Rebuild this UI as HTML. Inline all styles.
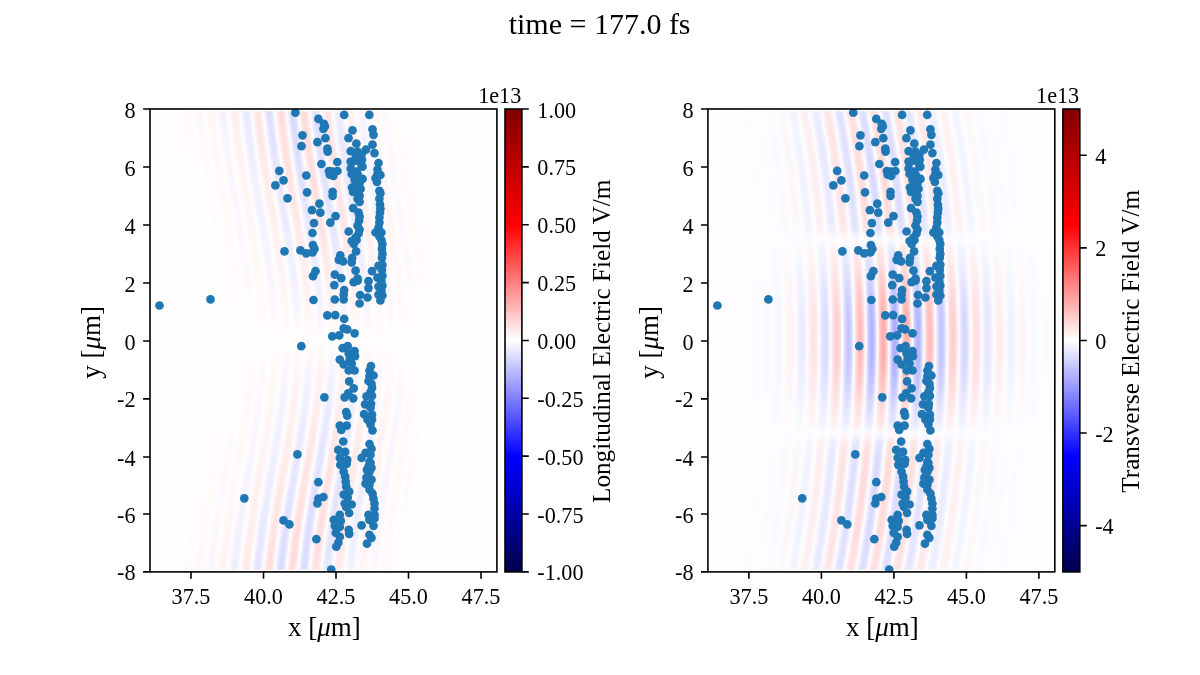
<!DOCTYPE html><html><head><meta charset="utf-8"><title>time = 177.0 fs</title><style>html,body{margin:0;padding:0;background:#fff;overflow:hidden;}svg{display:block;}text{font-family:'Liberation Serif','Times New Roman',serif;fill:#000;}</style></head><body>
<svg width="1200" height="675" viewBox="0 0 1200 675">
<defs><linearGradient id="gEz" gradientUnits="userSpaceOnUse" x1="0" y1="0" x2="23.300" y2="0" spreadMethod="repeat"><stop offset="0.0000" stop-color="rgb(255,214,214)"/><stop offset="0.0625" stop-color="rgb(255,217,217)"/><stop offset="0.1250" stop-color="rgb(255,226,226)"/><stop offset="0.1875" stop-color="rgb(255,239,239)"/><stop offset="0.2500" stop-color="rgb(255,255,255)"/><stop offset="0.3125" stop-color="rgb(239,239,255)"/><stop offset="0.3750" stop-color="rgb(226,226,255)"/><stop offset="0.4375" stop-color="rgb(217,217,255)"/><stop offset="0.5000" stop-color="rgb(214,214,255)"/><stop offset="0.5625" stop-color="rgb(217,217,255)"/><stop offset="0.6250" stop-color="rgb(226,226,255)"/><stop offset="0.6875" stop-color="rgb(239,239,255)"/><stop offset="0.7500" stop-color="rgb(255,255,255)"/><stop offset="0.8125" stop-color="rgb(255,239,239)"/><stop offset="0.8750" stop-color="rgb(255,226,226)"/><stop offset="0.9375" stop-color="rgb(255,217,217)"/><stop offset="1.0000" stop-color="rgb(255,214,214)"/></linearGradient><linearGradient id="gEy" gradientUnits="userSpaceOnUse" x1="0" y1="0" x2="23.300" y2="0" spreadMethod="repeat"><stop offset="0.0000" stop-color="rgb(255,171,171)"/><stop offset="0.0625" stop-color="rgb(255,177,177)"/><stop offset="0.1250" stop-color="rgb(255,195,195)"/><stop offset="0.1875" stop-color="rgb(255,223,223)"/><stop offset="0.2500" stop-color="rgb(255,255,255)"/><stop offset="0.3125" stop-color="rgb(223,223,255)"/><stop offset="0.3750" stop-color="rgb(195,195,255)"/><stop offset="0.4375" stop-color="rgb(177,177,255)"/><stop offset="0.5000" stop-color="rgb(171,171,255)"/><stop offset="0.5625" stop-color="rgb(177,177,255)"/><stop offset="0.6250" stop-color="rgb(195,195,255)"/><stop offset="0.6875" stop-color="rgb(223,223,255)"/><stop offset="0.7500" stop-color="rgb(255,255,255)"/><stop offset="0.8125" stop-color="rgb(255,223,223)"/><stop offset="0.8750" stop-color="rgb(255,195,195)"/><stop offset="0.9375" stop-color="rgb(255,177,177)"/><stop offset="1.0000" stop-color="rgb(255,171,171)"/></linearGradient><linearGradient id="eEz" gradientUnits="userSpaceOnUse" x1="75.0" y1="0" x2="595.0" y2="0"><stop offset="0.0000" stop-color="rgb(0,0,0)"/><stop offset="0.0385" stop-color="rgb(0,0,0)"/><stop offset="0.0769" stop-color="rgb(0,0,0)"/><stop offset="0.1154" stop-color="rgb(0,0,0)"/><stop offset="0.1538" stop-color="rgb(0,0,0)"/><stop offset="0.1923" stop-color="rgb(0,0,0)"/><stop offset="0.2308" stop-color="rgb(2,2,2)"/><stop offset="0.2692" stop-color="rgb(7,7,7)"/><stop offset="0.3077" stop-color="rgb(22,22,22)"/><stop offset="0.3462" stop-color="rgb(53,53,53)"/><stop offset="0.3846" stop-color="rgb(105,105,105)"/><stop offset="0.4231" stop-color="rgb(172,172,172)"/><stop offset="0.4615" stop-color="rgb(231,231,231)"/><stop offset="0.5000" stop-color="rgb(255,255,255)"/><stop offset="0.5385" stop-color="rgb(225,225,225)"/><stop offset="0.5769" stop-color="rgb(155,155,155)"/><stop offset="0.6154" stop-color="rgb(83,83,83)"/><stop offset="0.6538" stop-color="rgb(35,35,35)"/><stop offset="0.6923" stop-color="rgb(11,11,11)"/><stop offset="0.7308" stop-color="rgb(3,3,3)"/><stop offset="0.7692" stop-color="rgb(1,1,1)"/><stop offset="0.8077" stop-color="rgb(0,0,0)"/><stop offset="0.8462" stop-color="rgb(0,0,0)"/><stop offset="0.8846" stop-color="rgb(0,0,0)"/><stop offset="0.9231" stop-color="rgb(0,0,0)"/><stop offset="0.9615" stop-color="rgb(0,0,0)"/><stop offset="1.0000" stop-color="rgb(0,0,0)"/></linearGradient><linearGradient id="eEyI" gradientUnits="userSpaceOnUse" x1="631.0" y1="0" x2="1151.0" y2="0"><stop offset="0.0000" stop-color="rgb(0,0,0)"/><stop offset="0.0385" stop-color="rgb(0,0,0)"/><stop offset="0.0769" stop-color="rgb(0,0,0)"/><stop offset="0.1154" stop-color="rgb(0,0,0)"/><stop offset="0.1538" stop-color="rgb(0,0,0)"/><stop offset="0.1923" stop-color="rgb(2,2,2)"/><stop offset="0.2308" stop-color="rgb(5,5,5)"/><stop offset="0.2692" stop-color="rgb(14,14,14)"/><stop offset="0.3077" stop-color="rgb(35,35,35)"/><stop offset="0.3462" stop-color="rgb(71,71,71)"/><stop offset="0.3846" stop-color="rgb(124,124,124)"/><stop offset="0.4231" stop-color="rgb(185,185,185)"/><stop offset="0.4615" stop-color="rgb(235,235,235)"/><stop offset="0.5000" stop-color="rgb(255,255,255)"/><stop offset="0.5385" stop-color="rgb(241,241,241)"/><stop offset="0.5769" stop-color="rgb(204,204,204)"/><stop offset="0.6154" stop-color="rgb(155,155,155)"/><stop offset="0.6538" stop-color="rgb(105,105,105)"/><stop offset="0.6923" stop-color="rgb(64,64,64)"/><stop offset="0.7308" stop-color="rgb(35,35,35)"/><stop offset="0.7692" stop-color="rgb(17,17,17)"/><stop offset="0.8077" stop-color="rgb(7,7,7)"/><stop offset="0.8462" stop-color="rgb(3,3,3)"/><stop offset="0.8846" stop-color="rgb(1,1,1)"/><stop offset="0.9231" stop-color="rgb(0,0,0)"/><stop offset="0.9615" stop-color="rgb(0,0,0)"/><stop offset="1.0000" stop-color="rgb(0,0,0)"/></linearGradient><linearGradient id="eEyO" gradientUnits="userSpaceOnUse" x1="626.0" y1="0" x2="1146.0" y2="0"><stop offset="0.0000" stop-color="rgb(0,0,0)"/><stop offset="0.0385" stop-color="rgb(0,0,0)"/><stop offset="0.0769" stop-color="rgb(0,0,0)"/><stop offset="0.1154" stop-color="rgb(0,0,0)"/><stop offset="0.1538" stop-color="rgb(0,0,0)"/><stop offset="0.1923" stop-color="rgb(1,1,1)"/><stop offset="0.2308" stop-color="rgb(2,2,2)"/><stop offset="0.2692" stop-color="rgb(8,8,8)"/><stop offset="0.3077" stop-color="rgb(24,24,24)"/><stop offset="0.3462" stop-color="rgb(56,56,56)"/><stop offset="0.3846" stop-color="rgb(109,109,109)"/><stop offset="0.4231" stop-color="rgb(175,175,175)"/><stop offset="0.4615" stop-color="rgb(232,232,232)"/><stop offset="0.5000" stop-color="rgb(255,255,255)"/><stop offset="0.5385" stop-color="rgb(238,238,238)"/><stop offset="0.5769" stop-color="rgb(194,194,194)"/><stop offset="0.6154" stop-color="rgb(138,138,138)"/><stop offset="0.6538" stop-color="rgb(85,85,85)"/><stop offset="0.6923" stop-color="rgb(46,46,46)"/><stop offset="0.7308" stop-color="rgb(22,22,22)"/><stop offset="0.7692" stop-color="rgb(9,9,9)"/><stop offset="0.8077" stop-color="rgb(3,3,3)"/><stop offset="0.8462" stop-color="rgb(1,1,1)"/><stop offset="0.8846" stop-color="rgb(0,0,0)"/><stop offset="0.9231" stop-color="rgb(0,0,0)"/><stop offset="0.9615" stop-color="rgb(0,0,0)"/><stop offset="1.0000" stop-color="rgb(0,0,0)"/></linearGradient><mask id="mEz" maskUnits="userSpaceOnUse" x="0" y="0" width="1200" height="675"><rect x="193.87" y="110" width="346.9" height="2" fill="url(#eEz)" opacity="0.974" transform="translate(-43.87)"/><rect x="193.11" y="112" width="346.9" height="2" fill="url(#eEz)" opacity="0.970" transform="translate(-43.11)"/><rect x="192.36" y="114" width="346.9" height="2" fill="url(#eEz)" opacity="0.966" transform="translate(-42.36)"/><rect x="191.61" y="116" width="346.9" height="2" fill="url(#eEz)" opacity="0.961" transform="translate(-41.61)"/><rect x="190.87" y="118" width="346.9" height="2" fill="url(#eEz)" opacity="0.957" transform="translate(-40.87)"/><rect x="190.13" y="120" width="346.9" height="2" fill="url(#eEz)" opacity="0.953" transform="translate(-40.13)"/><rect x="189.40" y="122" width="346.9" height="2" fill="url(#eEz)" opacity="0.949" transform="translate(-39.40)"/><rect x="188.68" y="124" width="346.9" height="2" fill="url(#eEz)" opacity="0.945" transform="translate(-38.68)"/><rect x="187.97" y="126" width="346.9" height="2" fill="url(#eEz)" opacity="0.940" transform="translate(-37.97)"/><rect x="187.26" y="128" width="346.9" height="2" fill="url(#eEz)" opacity="0.936" transform="translate(-37.26)"/><rect x="186.56" y="130" width="346.9" height="2" fill="url(#eEz)" opacity="0.932" transform="translate(-36.56)"/><rect x="185.86" y="132" width="346.9" height="2" fill="url(#eEz)" opacity="0.927" transform="translate(-35.86)"/><rect x="185.17" y="134" width="346.9" height="2" fill="url(#eEz)" opacity="0.923" transform="translate(-35.17)"/><rect x="184.49" y="136" width="346.9" height="2" fill="url(#eEz)" opacity="0.919" transform="translate(-34.49)"/><rect x="183.82" y="138" width="346.9" height="2" fill="url(#eEz)" opacity="0.914" transform="translate(-33.82)"/><rect x="183.15" y="140" width="346.9" height="2" fill="url(#eEz)" opacity="0.910" transform="translate(-33.15)"/><rect x="182.49" y="142" width="346.9" height="2" fill="url(#eEz)" opacity="0.905" transform="translate(-32.49)"/><rect x="181.83" y="144" width="346.9" height="2" fill="url(#eEz)" opacity="0.901" transform="translate(-31.83)"/><rect x="181.19" y="146" width="346.9" height="2" fill="url(#eEz)" opacity="0.896" transform="translate(-31.19)"/><rect x="180.54" y="148" width="346.9" height="2" fill="url(#eEz)" opacity="0.892" transform="translate(-30.54)"/><rect x="179.91" y="150" width="346.9" height="2" fill="url(#eEz)" opacity="0.887" transform="translate(-29.91)"/><rect x="179.28" y="152" width="346.9" height="2" fill="url(#eEz)" opacity="0.883" transform="translate(-29.28)"/><rect x="178.66" y="154" width="346.9" height="2" fill="url(#eEz)" opacity="0.878" transform="translate(-28.66)"/><rect x="178.04" y="156" width="346.9" height="2" fill="url(#eEz)" opacity="0.873" transform="translate(-28.04)"/><rect x="177.44" y="158" width="346.9" height="2" fill="url(#eEz)" opacity="0.868" transform="translate(-27.44)"/><rect x="176.84" y="160" width="346.9" height="2" fill="url(#eEz)" opacity="0.864" transform="translate(-26.84)"/><rect x="176.24" y="162" width="346.9" height="2" fill="url(#eEz)" opacity="0.859" transform="translate(-26.24)"/><rect x="175.65" y="164" width="346.9" height="2" fill="url(#eEz)" opacity="0.854" transform="translate(-25.65)"/><rect x="175.07" y="166" width="346.9" height="2" fill="url(#eEz)" opacity="0.849" transform="translate(-25.07)"/><rect x="174.50" y="168" width="346.9" height="2" fill="url(#eEz)" opacity="0.844" transform="translate(-24.50)"/><rect x="173.93" y="170" width="346.9" height="2" fill="url(#eEz)" opacity="0.839" transform="translate(-23.93)"/><rect x="173.37" y="172" width="346.9" height="2" fill="url(#eEz)" opacity="0.834" transform="translate(-23.37)"/><rect x="172.81" y="174" width="346.9" height="2" fill="url(#eEz)" opacity="0.829" transform="translate(-22.81)"/><rect x="172.26" y="176" width="346.9" height="2" fill="url(#eEz)" opacity="0.824" transform="translate(-22.26)"/><rect x="171.72" y="178" width="346.9" height="2" fill="url(#eEz)" opacity="0.819" transform="translate(-21.72)"/><rect x="171.19" y="180" width="346.9" height="2" fill="url(#eEz)" opacity="0.814" transform="translate(-21.19)"/><rect x="170.66" y="182" width="346.9" height="2" fill="url(#eEz)" opacity="0.808" transform="translate(-20.66)"/><rect x="170.14" y="184" width="346.9" height="2" fill="url(#eEz)" opacity="0.803" transform="translate(-20.14)"/><rect x="169.62" y="186" width="346.9" height="2" fill="url(#eEz)" opacity="0.798" transform="translate(-19.62)"/><rect x="169.11" y="188" width="346.9" height="2" fill="url(#eEz)" opacity="0.792" transform="translate(-19.11)"/><rect x="168.61" y="190" width="346.9" height="2" fill="url(#eEz)" opacity="0.787" transform="translate(-18.61)"/><rect x="168.12" y="192" width="346.9" height="2" fill="url(#eEz)" opacity="0.781" transform="translate(-18.12)"/><rect x="167.63" y="194" width="346.9" height="2" fill="url(#eEz)" opacity="0.775" transform="translate(-17.63)"/><rect x="167.15" y="196" width="346.9" height="2" fill="url(#eEz)" opacity="0.770" transform="translate(-17.15)"/><rect x="166.67" y="198" width="346.9" height="2" fill="url(#eEz)" opacity="0.764" transform="translate(-16.67)"/><rect x="166.21" y="200" width="346.9" height="2" fill="url(#eEz)" opacity="0.758" transform="translate(-16.21)"/><rect x="165.74" y="202" width="346.9" height="2" fill="url(#eEz)" opacity="0.752" transform="translate(-15.74)"/><rect x="165.29" y="204" width="346.9" height="2" fill="url(#eEz)" opacity="0.746" transform="translate(-15.29)"/><rect x="164.84" y="206" width="346.9" height="2" fill="url(#eEz)" opacity="0.740" transform="translate(-14.84)"/><rect x="164.40" y="208" width="346.9" height="2" fill="url(#eEz)" opacity="0.734" transform="translate(-14.40)"/><rect x="163.96" y="210" width="346.9" height="2" fill="url(#eEz)" opacity="0.728" transform="translate(-13.96)"/><rect x="163.54" y="212" width="346.9" height="2" fill="url(#eEz)" opacity="0.722" transform="translate(-13.54)"/><rect x="163.11" y="214" width="346.9" height="2" fill="url(#eEz)" opacity="0.715" transform="translate(-13.11)"/><rect x="162.70" y="216" width="346.9" height="2" fill="url(#eEz)" opacity="0.709" transform="translate(-12.70)"/><rect x="162.29" y="218" width="346.9" height="2" fill="url(#eEz)" opacity="0.702" transform="translate(-12.29)"/><rect x="161.89" y="220" width="346.9" height="2" fill="url(#eEz)" opacity="0.696" transform="translate(-11.89)"/><rect x="161.50" y="222" width="346.9" height="2" fill="url(#eEz)" opacity="0.689" transform="translate(-11.50)"/><rect x="161.11" y="224" width="346.9" height="2" fill="url(#eEz)" opacity="0.682" transform="translate(-11.11)"/><rect x="160.73" y="226" width="346.9" height="2" fill="url(#eEz)" opacity="0.676" transform="translate(-10.73)"/><rect x="160.35" y="228" width="346.9" height="2" fill="url(#eEz)" opacity="0.669" transform="translate(-10.35)"/><rect x="159.98" y="230" width="346.9" height="2" fill="url(#eEz)" opacity="0.661" transform="translate(-9.98)"/><rect x="159.62" y="232" width="346.9" height="2" fill="url(#eEz)" opacity="0.654" transform="translate(-9.62)"/><rect x="159.27" y="234" width="346.9" height="2" fill="url(#eEz)" opacity="0.647" transform="translate(-9.27)"/><rect x="158.92" y="236" width="346.9" height="2" fill="url(#eEz)" opacity="0.640" transform="translate(-8.92)"/><rect x="158.58" y="238" width="346.9" height="2" fill="url(#eEz)" opacity="0.632" transform="translate(-8.58)"/><rect x="158.24" y="240" width="346.9" height="2" fill="url(#eEz)" opacity="0.624" transform="translate(-8.24)"/><rect x="157.91" y="242" width="346.9" height="2" fill="url(#eEz)" opacity="0.617" transform="translate(-7.91)"/><rect x="157.59" y="244" width="346.9" height="2" fill="url(#eEz)" opacity="0.609" transform="translate(-7.59)"/><rect x="157.28" y="246" width="346.9" height="2" fill="url(#eEz)" opacity="0.601" transform="translate(-7.28)"/><rect x="156.97" y="248" width="346.9" height="2" fill="url(#eEz)" opacity="0.593" transform="translate(-6.97)"/><rect x="156.67" y="250" width="346.9" height="2" fill="url(#eEz)" opacity="0.584" transform="translate(-6.67)"/><rect x="156.37" y="252" width="346.9" height="2" fill="url(#eEz)" opacity="0.576" transform="translate(-6.37)"/><rect x="156.08" y="254" width="346.9" height="2" fill="url(#eEz)" opacity="0.567" transform="translate(-6.08)"/><rect x="155.80" y="256" width="346.9" height="2" fill="url(#eEz)" opacity="0.559" transform="translate(-5.80)"/><rect x="155.53" y="258" width="346.9" height="2" fill="url(#eEz)" opacity="0.550" transform="translate(-5.53)"/><rect x="155.26" y="260" width="346.9" height="2" fill="url(#eEz)" opacity="0.541" transform="translate(-5.26)"/><rect x="155.00" y="262" width="346.9" height="2" fill="url(#eEz)" opacity="0.532" transform="translate(-5.00)"/><rect x="154.74" y="264" width="346.9" height="2" fill="url(#eEz)" opacity="0.522" transform="translate(-4.74)"/><rect x="154.50" y="266" width="346.9" height="2" fill="url(#eEz)" opacity="0.513" transform="translate(-4.50)"/><rect x="154.25" y="268" width="346.9" height="2" fill="url(#eEz)" opacity="0.503" transform="translate(-4.25)"/><rect x="154.02" y="270" width="346.9" height="2" fill="url(#eEz)" opacity="0.494" transform="translate(-4.02)"/><rect x="153.79" y="272" width="346.9" height="2" fill="url(#eEz)" opacity="0.484" transform="translate(-3.79)"/><rect x="153.57" y="274" width="346.9" height="2" fill="url(#eEz)" opacity="0.473" transform="translate(-3.57)"/><rect x="153.35" y="276" width="346.9" height="2" fill="url(#eEz)" opacity="0.463" transform="translate(-3.35)"/><rect x="153.15" y="278" width="346.9" height="2" fill="url(#eEz)" opacity="0.452" transform="translate(-3.15)"/><rect x="152.95" y="280" width="346.9" height="2" fill="url(#eEz)" opacity="0.442" transform="translate(-2.95)"/><rect x="152.75" y="282" width="346.9" height="2" fill="url(#eEz)" opacity="0.431" transform="translate(-2.75)"/><rect x="152.56" y="284" width="346.9" height="2" fill="url(#eEz)" opacity="0.420" transform="translate(-2.56)"/><rect x="152.38" y="286" width="346.9" height="2" fill="url(#eEz)" opacity="0.408" transform="translate(-2.38)"/><rect x="152.21" y="288" width="346.9" height="2" fill="url(#eEz)" opacity="0.397" transform="translate(-2.21)"/><rect x="152.04" y="290" width="346.9" height="2" fill="url(#eEz)" opacity="0.385" transform="translate(-2.04)"/><rect x="151.88" y="292" width="346.9" height="2" fill="url(#eEz)" opacity="0.373" transform="translate(-1.88)"/><rect x="151.72" y="294" width="346.9" height="2" fill="url(#eEz)" opacity="0.360" transform="translate(-1.72)"/><rect x="151.57" y="296" width="346.9" height="2" fill="url(#eEz)" opacity="0.348" transform="translate(-1.57)"/><rect x="151.43" y="298" width="346.9" height="2" fill="url(#eEz)" opacity="0.335" transform="translate(-1.43)"/><rect x="151.30" y="300" width="346.9" height="2" fill="url(#eEz)" opacity="0.322" transform="translate(-1.30)"/><rect x="151.17" y="302" width="346.9" height="2" fill="url(#eEz)" opacity="0.309" transform="translate(-1.17)"/><rect x="151.05" y="304" width="346.9" height="2" fill="url(#eEz)" opacity="0.295" transform="translate(-1.05)"/><rect x="150.93" y="306" width="346.9" height="2" fill="url(#eEz)" opacity="0.281" transform="translate(-0.93)"/><rect x="150.82" y="308" width="346.9" height="2" fill="url(#eEz)" opacity="0.267" transform="translate(-0.82)"/><rect x="150.72" y="310" width="346.9" height="2" fill="url(#eEz)" opacity="0.252" transform="translate(-0.72)"/><rect x="150.63" y="312" width="346.9" height="2" fill="url(#eEz)" opacity="0.238" transform="translate(-0.63)"/><rect x="150.54" y="314" width="346.9" height="2" fill="url(#eEz)" opacity="0.223" transform="translate(-0.54)"/><rect x="150.46" y="316" width="346.9" height="2" fill="url(#eEz)" opacity="0.207" transform="translate(-0.46)"/><rect x="150.38" y="318" width="346.9" height="2" fill="url(#eEz)" opacity="0.191" transform="translate(-0.38)"/><rect x="150.32" y="320" width="346.9" height="2" fill="url(#eEz)" opacity="0.175" transform="translate(-0.32)"/><rect x="150.25" y="322" width="346.9" height="2" fill="url(#eEz)" opacity="0.159" transform="translate(-0.25)"/><rect x="150.20" y="324" width="346.9" height="2" fill="url(#eEz)" opacity="0.142" transform="translate(-0.20)"/><rect x="150.15" y="326" width="346.9" height="2" fill="url(#eEz)" opacity="0.125" transform="translate(-0.15)"/><rect x="150.11" y="328" width="346.9" height="2" fill="url(#eEz)" opacity="0.108" transform="translate(-0.11)"/><rect x="150.07" y="330" width="346.9" height="2" fill="url(#eEz)" opacity="0.090" transform="translate(-0.07)"/><rect x="150.05" y="332" width="346.9" height="2" fill="url(#eEz)" opacity="0.072" transform="translate(-0.05)"/><rect x="150.02" y="334" width="346.9" height="2" fill="url(#eEz)" opacity="0.053" transform="translate(-0.02)"/><rect x="150.01" y="336" width="346.9" height="2" fill="url(#eEz)" opacity="0.034" transform="translate(-0.01)"/><rect x="150.00" y="338" width="346.9" height="2" fill="url(#eEz)" opacity="0.014" transform="translate(-0.00)"/><rect x="150.00" y="340" width="346.9" height="2" fill="url(#eEz)" opacity="0.005" transform="translate(-0.00)"/><rect x="150.01" y="342" width="346.9" height="2" fill="url(#eEz)" opacity="0.025" transform="translate(-0.01)"/><rect x="150.02" y="344" width="346.9" height="2" fill="url(#eEz)" opacity="0.044" transform="translate(-0.02)"/><rect x="150.04" y="346" width="346.9" height="2" fill="url(#eEz)" opacity="0.063" transform="translate(-0.04)"/><rect x="150.06" y="348" width="346.9" height="2" fill="url(#eEz)" opacity="0.082" transform="translate(-0.06)"/><rect x="150.09" y="350" width="346.9" height="2" fill="url(#eEz)" opacity="0.100" transform="translate(-0.09)"/><rect x="150.13" y="352" width="346.9" height="2" fill="url(#eEz)" opacity="0.117" transform="translate(-0.13)"/><rect x="150.18" y="354" width="346.9" height="2" fill="url(#eEz)" opacity="0.135" transform="translate(-0.18)"/><rect x="150.23" y="356" width="346.9" height="2" fill="url(#eEz)" opacity="0.152" transform="translate(-0.23)"/><rect x="150.29" y="358" width="346.9" height="2" fill="url(#eEz)" opacity="0.168" transform="translate(-0.29)"/><rect x="150.35" y="360" width="346.9" height="2" fill="url(#eEz)" opacity="0.184" transform="translate(-0.35)"/><rect x="150.42" y="362" width="346.9" height="2" fill="url(#eEz)" opacity="0.200" transform="translate(-0.42)"/><rect x="150.50" y="364" width="346.9" height="2" fill="url(#eEz)" opacity="0.216" transform="translate(-0.50)"/><rect x="150.59" y="366" width="346.9" height="2" fill="url(#eEz)" opacity="0.231" transform="translate(-0.59)"/><rect x="150.68" y="368" width="346.9" height="2" fill="url(#eEz)" opacity="0.246" transform="translate(-0.68)"/><rect x="150.78" y="370" width="346.9" height="2" fill="url(#eEz)" opacity="0.260" transform="translate(-0.78)"/><rect x="150.88" y="372" width="346.9" height="2" fill="url(#eEz)" opacity="0.275" transform="translate(-0.88)"/><rect x="150.99" y="374" width="346.9" height="2" fill="url(#eEz)" opacity="0.289" transform="translate(-0.99)"/><rect x="151.11" y="376" width="346.9" height="2" fill="url(#eEz)" opacity="0.302" transform="translate(-1.11)"/><rect x="151.24" y="378" width="346.9" height="2" fill="url(#eEz)" opacity="0.316" transform="translate(-1.24)"/><rect x="151.37" y="380" width="346.9" height="2" fill="url(#eEz)" opacity="0.329" transform="translate(-1.37)"/><rect x="151.51" y="382" width="346.9" height="2" fill="url(#eEz)" opacity="0.342" transform="translate(-1.51)"/><rect x="151.65" y="384" width="346.9" height="2" fill="url(#eEz)" opacity="0.355" transform="translate(-1.65)"/><rect x="151.81" y="386" width="346.9" height="2" fill="url(#eEz)" opacity="0.367" transform="translate(-1.81)"/><rect x="151.96" y="388" width="346.9" height="2" fill="url(#eEz)" opacity="0.379" transform="translate(-1.96)"/><rect x="152.13" y="390" width="346.9" height="2" fill="url(#eEz)" opacity="0.391" transform="translate(-2.13)"/><rect x="152.30" y="392" width="346.9" height="2" fill="url(#eEz)" opacity="0.403" transform="translate(-2.30)"/><rect x="152.48" y="394" width="346.9" height="2" fill="url(#eEz)" opacity="0.414" transform="translate(-2.48)"/><rect x="152.66" y="396" width="346.9" height="2" fill="url(#eEz)" opacity="0.426" transform="translate(-2.66)"/><rect x="152.86" y="398" width="346.9" height="2" fill="url(#eEz)" opacity="0.437" transform="translate(-2.86)"/><rect x="153.06" y="400" width="346.9" height="2" fill="url(#eEz)" opacity="0.448" transform="translate(-3.06)"/><rect x="153.26" y="402" width="346.9" height="2" fill="url(#eEz)" opacity="0.458" transform="translate(-3.26)"/><rect x="153.47" y="404" width="346.9" height="2" fill="url(#eEz)" opacity="0.469" transform="translate(-3.47)"/><rect x="153.69" y="406" width="346.9" height="2" fill="url(#eEz)" opacity="0.479" transform="translate(-3.69)"/><rect x="153.92" y="408" width="346.9" height="2" fill="url(#eEz)" opacity="0.489" transform="translate(-3.92)"/><rect x="154.15" y="410" width="346.9" height="2" fill="url(#eEz)" opacity="0.499" transform="translate(-4.15)"/><rect x="154.39" y="412" width="346.9" height="2" fill="url(#eEz)" opacity="0.509" transform="translate(-4.39)"/><rect x="154.63" y="414" width="346.9" height="2" fill="url(#eEz)" opacity="0.518" transform="translate(-4.63)"/><rect x="154.88" y="416" width="346.9" height="2" fill="url(#eEz)" opacity="0.528" transform="translate(-4.88)"/><rect x="155.14" y="418" width="346.9" height="2" fill="url(#eEz)" opacity="0.537" transform="translate(-5.14)"/><rect x="155.41" y="420" width="346.9" height="2" fill="url(#eEz)" opacity="0.546" transform="translate(-5.41)"/><rect x="155.68" y="422" width="346.9" height="2" fill="url(#eEz)" opacity="0.555" transform="translate(-5.68)"/><rect x="155.96" y="424" width="346.9" height="2" fill="url(#eEz)" opacity="0.564" transform="translate(-5.96)"/><rect x="156.24" y="426" width="346.9" height="2" fill="url(#eEz)" opacity="0.572" transform="translate(-6.24)"/><rect x="156.53" y="428" width="346.9" height="2" fill="url(#eEz)" opacity="0.581" transform="translate(-6.53)"/><rect x="156.83" y="430" width="346.9" height="2" fill="url(#eEz)" opacity="0.589" transform="translate(-6.83)"/><rect x="157.14" y="432" width="346.9" height="2" fill="url(#eEz)" opacity="0.597" transform="translate(-7.14)"/><rect x="157.45" y="434" width="346.9" height="2" fill="url(#eEz)" opacity="0.605" transform="translate(-7.45)"/><rect x="157.77" y="436" width="346.9" height="2" fill="url(#eEz)" opacity="0.613" transform="translate(-7.77)"/><rect x="158.09" y="438" width="346.9" height="2" fill="url(#eEz)" opacity="0.621" transform="translate(-8.09)"/><rect x="158.43" y="440" width="346.9" height="2" fill="url(#eEz)" opacity="0.629" transform="translate(-8.43)"/><rect x="158.76" y="442" width="346.9" height="2" fill="url(#eEz)" opacity="0.636" transform="translate(-8.76)"/><rect x="159.11" y="444" width="346.9" height="2" fill="url(#eEz)" opacity="0.644" transform="translate(-9.11)"/><rect x="159.46" y="446" width="346.9" height="2" fill="url(#eEz)" opacity="0.651" transform="translate(-9.46)"/><rect x="159.82" y="448" width="346.9" height="2" fill="url(#eEz)" opacity="0.658" transform="translate(-9.82)"/><rect x="160.18" y="450" width="346.9" height="2" fill="url(#eEz)" opacity="0.665" transform="translate(-10.18)"/><rect x="160.56" y="452" width="346.9" height="2" fill="url(#eEz)" opacity="0.672" transform="translate(-10.56)"/><rect x="160.93" y="454" width="346.9" height="2" fill="url(#eEz)" opacity="0.679" transform="translate(-10.93)"/><rect x="161.32" y="456" width="346.9" height="2" fill="url(#eEz)" opacity="0.686" transform="translate(-11.32)"/><rect x="161.71" y="458" width="346.9" height="2" fill="url(#eEz)" opacity="0.693" transform="translate(-11.71)"/><rect x="162.11" y="460" width="346.9" height="2" fill="url(#eEz)" opacity="0.700" transform="translate(-12.11)"/><rect x="162.52" y="462" width="346.9" height="2" fill="url(#eEz)" opacity="0.706" transform="translate(-12.52)"/><rect x="162.93" y="464" width="346.9" height="2" fill="url(#eEz)" opacity="0.713" transform="translate(-12.93)"/><rect x="163.35" y="466" width="346.9" height="2" fill="url(#eEz)" opacity="0.719" transform="translate(-13.35)"/><rect x="163.77" y="468" width="346.9" height="2" fill="url(#eEz)" opacity="0.725" transform="translate(-13.77)"/><rect x="164.20" y="470" width="346.9" height="2" fill="url(#eEz)" opacity="0.731" transform="translate(-14.20)"/><rect x="164.64" y="472" width="346.9" height="2" fill="url(#eEz)" opacity="0.738" transform="translate(-14.64)"/><rect x="165.09" y="474" width="346.9" height="2" fill="url(#eEz)" opacity="0.744" transform="translate(-15.09)"/><rect x="165.54" y="476" width="346.9" height="2" fill="url(#eEz)" opacity="0.750" transform="translate(-15.54)"/><rect x="166.00" y="478" width="346.9" height="2" fill="url(#eEz)" opacity="0.756" transform="translate(-16.00)"/><rect x="166.46" y="480" width="346.9" height="2" fill="url(#eEz)" opacity="0.761" transform="translate(-16.46)"/><rect x="166.93" y="482" width="346.9" height="2" fill="url(#eEz)" opacity="0.767" transform="translate(-16.93)"/><rect x="167.41" y="484" width="346.9" height="2" fill="url(#eEz)" opacity="0.773" transform="translate(-17.41)"/><rect x="167.90" y="486" width="346.9" height="2" fill="url(#eEz)" opacity="0.779" transform="translate(-17.90)"/><rect x="168.39" y="488" width="346.9" height="2" fill="url(#eEz)" opacity="0.784" transform="translate(-18.39)"/><rect x="168.89" y="490" width="346.9" height="2" fill="url(#eEz)" opacity="0.790" transform="translate(-18.89)"/><rect x="169.39" y="492" width="346.9" height="2" fill="url(#eEz)" opacity="0.795" transform="translate(-19.39)"/><rect x="169.90" y="494" width="346.9" height="2" fill="url(#eEz)" opacity="0.801" transform="translate(-19.90)"/><rect x="170.42" y="496" width="346.9" height="2" fill="url(#eEz)" opacity="0.806" transform="translate(-20.42)"/><rect x="170.95" y="498" width="346.9" height="2" fill="url(#eEz)" opacity="0.811" transform="translate(-20.95)"/><rect x="171.48" y="500" width="346.9" height="2" fill="url(#eEz)" opacity="0.816" transform="translate(-21.48)"/><rect x="172.02" y="502" width="346.9" height="2" fill="url(#eEz)" opacity="0.822" transform="translate(-22.02)"/><rect x="172.56" y="504" width="346.9" height="2" fill="url(#eEz)" opacity="0.827" transform="translate(-22.56)"/><rect x="173.12" y="506" width="346.9" height="2" fill="url(#eEz)" opacity="0.832" transform="translate(-23.12)"/><rect x="173.67" y="508" width="346.9" height="2" fill="url(#eEz)" opacity="0.837" transform="translate(-23.67)"/><rect x="174.24" y="510" width="346.9" height="2" fill="url(#eEz)" opacity="0.842" transform="translate(-24.24)"/><rect x="174.81" y="512" width="346.9" height="2" fill="url(#eEz)" opacity="0.847" transform="translate(-24.81)"/><rect x="175.39" y="514" width="346.9" height="2" fill="url(#eEz)" opacity="0.852" transform="translate(-25.39)"/><rect x="175.97" y="516" width="346.9" height="2" fill="url(#eEz)" opacity="0.857" transform="translate(-25.97)"/><rect x="176.57" y="518" width="346.9" height="2" fill="url(#eEz)" opacity="0.862" transform="translate(-26.57)"/><rect x="177.17" y="520" width="346.9" height="2" fill="url(#eEz)" opacity="0.866" transform="translate(-27.17)"/><rect x="177.77" y="522" width="346.9" height="2" fill="url(#eEz)" opacity="0.871" transform="translate(-27.77)"/><rect x="178.38" y="524" width="346.9" height="2" fill="url(#eEz)" opacity="0.876" transform="translate(-28.38)"/><rect x="179.00" y="526" width="346.9" height="2" fill="url(#eEz)" opacity="0.880" transform="translate(-29.00)"/><rect x="179.63" y="528" width="346.9" height="2" fill="url(#eEz)" opacity="0.885" transform="translate(-29.63)"/><rect x="180.26" y="530" width="346.9" height="2" fill="url(#eEz)" opacity="0.890" transform="translate(-30.26)"/><rect x="180.90" y="532" width="346.9" height="2" fill="url(#eEz)" opacity="0.894" transform="translate(-30.90)"/><rect x="181.54" y="534" width="346.9" height="2" fill="url(#eEz)" opacity="0.899" transform="translate(-31.54)"/><rect x="182.19" y="536" width="346.9" height="2" fill="url(#eEz)" opacity="0.903" transform="translate(-32.19)"/><rect x="182.85" y="538" width="346.9" height="2" fill="url(#eEz)" opacity="0.908" transform="translate(-32.85)"/><rect x="183.52" y="540" width="346.9" height="2" fill="url(#eEz)" opacity="0.912" transform="translate(-33.52)"/><rect x="184.19" y="542" width="346.9" height="2" fill="url(#eEz)" opacity="0.917" transform="translate(-34.19)"/><rect x="184.87" y="544" width="346.9" height="2" fill="url(#eEz)" opacity="0.921" transform="translate(-34.87)"/><rect x="185.55" y="546" width="346.9" height="2" fill="url(#eEz)" opacity="0.926" transform="translate(-35.55)"/><rect x="186.24" y="548" width="346.9" height="2" fill="url(#eEz)" opacity="0.930" transform="translate(-36.24)"/><rect x="186.94" y="550" width="346.9" height="2" fill="url(#eEz)" opacity="0.934" transform="translate(-36.94)"/><rect x="187.65" y="552" width="346.9" height="2" fill="url(#eEz)" opacity="0.938" transform="translate(-37.65)"/><rect x="188.36" y="554" width="346.9" height="2" fill="url(#eEz)" opacity="0.943" transform="translate(-38.36)"/><rect x="189.08" y="556" width="346.9" height="2" fill="url(#eEz)" opacity="0.947" transform="translate(-39.08)"/><rect x="189.80" y="558" width="346.9" height="2" fill="url(#eEz)" opacity="0.951" transform="translate(-39.80)"/><rect x="190.54" y="560" width="346.9" height="2" fill="url(#eEz)" opacity="0.955" transform="translate(-40.54)"/><rect x="191.27" y="562" width="346.9" height="2" fill="url(#eEz)" opacity="0.960" transform="translate(-41.27)"/><rect x="192.02" y="564" width="346.9" height="2" fill="url(#eEz)" opacity="0.964" transform="translate(-42.02)"/><rect x="192.77" y="566" width="346.9" height="2" fill="url(#eEz)" opacity="0.968" transform="translate(-42.77)"/><rect x="193.53" y="568" width="346.9" height="2" fill="url(#eEz)" opacity="0.972" transform="translate(-43.53)"/><rect x="194.10" y="570" width="346.9" height="1" fill="url(#eEz)" opacity="0.975" transform="translate(-44.10)"/></mask><mask id="mEy" maskUnits="userSpaceOnUse" x="0" y="0" width="1200" height="675"><rect x="728.96" y="110" width="346.9" height="2" fill="url(#eEyO)" opacity="0.402" transform="translate(-21.06)"/><rect x="728.59" y="112" width="346.9" height="2" fill="url(#eEyO)" opacity="0.404" transform="translate(-20.69)"/><rect x="728.23" y="114" width="346.9" height="2" fill="url(#eEyO)" opacity="0.405" transform="translate(-20.33)"/><rect x="727.87" y="116" width="346.9" height="2" fill="url(#eEyO)" opacity="0.407" transform="translate(-19.97)"/><rect x="727.52" y="118" width="346.9" height="2" fill="url(#eEyO)" opacity="0.409" transform="translate(-19.62)"/><rect x="727.16" y="120" width="346.9" height="2" fill="url(#eEyO)" opacity="0.410" transform="translate(-19.26)"/><rect x="726.81" y="122" width="346.9" height="2" fill="url(#eEyO)" opacity="0.412" transform="translate(-18.91)"/><rect x="726.47" y="124" width="346.9" height="2" fill="url(#eEyO)" opacity="0.414" transform="translate(-18.57)"/><rect x="726.12" y="126" width="346.9" height="2" fill="url(#eEyO)" opacity="0.415" transform="translate(-18.22)"/><rect x="725.78" y="128" width="346.9" height="2" fill="url(#eEyO)" opacity="0.417" transform="translate(-17.88)"/><rect x="725.45" y="130" width="346.9" height="2" fill="url(#eEyO)" opacity="0.419" transform="translate(-17.55)"/><rect x="725.11" y="132" width="346.9" height="2" fill="url(#eEyO)" opacity="0.420" transform="translate(-17.21)"/><rect x="724.78" y="134" width="346.9" height="2" fill="url(#eEyO)" opacity="0.422" transform="translate(-16.88)"/><rect x="724.46" y="136" width="346.9" height="2" fill="url(#eEyO)" opacity="0.423" transform="translate(-16.56)"/><rect x="724.13" y="138" width="346.9" height="2" fill="url(#eEyO)" opacity="0.425" transform="translate(-16.23)"/><rect x="723.81" y="140" width="346.9" height="2" fill="url(#eEyO)" opacity="0.427" transform="translate(-15.91)"/><rect x="723.49" y="142" width="346.9" height="2" fill="url(#eEyO)" opacity="0.428" transform="translate(-15.59)"/><rect x="723.18" y="144" width="346.9" height="2" fill="url(#eEyO)" opacity="0.430" transform="translate(-15.28)"/><rect x="722.87" y="146" width="346.9" height="2" fill="url(#eEyO)" opacity="0.431" transform="translate(-14.97)"/><rect x="722.56" y="148" width="346.9" height="2" fill="url(#eEyO)" opacity="0.433" transform="translate(-14.66)"/><rect x="722.26" y="150" width="346.9" height="2" fill="url(#eEyO)" opacity="0.434" transform="translate(-14.36)"/><rect x="721.96" y="152" width="346.9" height="2" fill="url(#eEyO)" opacity="0.436" transform="translate(-14.06)"/><rect x="721.66" y="154" width="346.9" height="2" fill="url(#eEyO)" opacity="0.437" transform="translate(-13.76)"/><rect x="721.36" y="156" width="346.9" height="2" fill="url(#eEyO)" opacity="0.438" transform="translate(-13.46)"/><rect x="721.07" y="158" width="346.9" height="2" fill="url(#eEyO)" opacity="0.440" transform="translate(-13.17)"/><rect x="720.78" y="160" width="346.9" height="2" fill="url(#eEyO)" opacity="0.441" transform="translate(-12.88)"/><rect x="720.50" y="162" width="346.9" height="2" fill="url(#eEyO)" opacity="0.442" transform="translate(-12.60)"/><rect x="720.21" y="164" width="346.9" height="2" fill="url(#eEyO)" opacity="0.443" transform="translate(-12.31)"/><rect x="719.93" y="166" width="346.9" height="2" fill="url(#eEyO)" opacity="0.444" transform="translate(-12.03)"/><rect x="719.66" y="168" width="346.9" height="2" fill="url(#eEyO)" opacity="0.445" transform="translate(-11.76)"/><rect x="719.39" y="170" width="346.9" height="2" fill="url(#eEyO)" opacity="0.446" transform="translate(-11.49)"/><rect x="719.12" y="172" width="346.9" height="2" fill="url(#eEyO)" opacity="0.447" transform="translate(-11.22)"/><rect x="718.85" y="174" width="346.9" height="2" fill="url(#eEyO)" opacity="0.448" transform="translate(-10.95)"/><rect x="718.59" y="176" width="346.9" height="2" fill="url(#eEyO)" opacity="0.449" transform="translate(-10.69)"/><rect x="718.33" y="178" width="346.9" height="2" fill="url(#eEyO)" opacity="0.449" transform="translate(-10.43)"/><rect x="718.07" y="180" width="346.9" height="2" fill="url(#eEyO)" opacity="0.449" transform="translate(-10.17)"/><rect x="717.82" y="182" width="346.9" height="2" fill="url(#eEyO)" opacity="0.450" transform="translate(-9.92)"/><rect x="717.57" y="184" width="346.9" height="2" fill="url(#eEyO)" opacity="0.450" transform="translate(-9.67)"/><rect x="717.32" y="186" width="346.9" height="2" fill="url(#eEyO)" opacity="0.450" transform="translate(-9.42)"/><rect x="717.07" y="188" width="346.9" height="2" fill="url(#eEyO)" opacity="0.449" transform="translate(-9.17)"/><rect x="716.83" y="190" width="346.9" height="2" fill="url(#eEyO)" opacity="0.449" transform="translate(-8.93)"/><rect x="716.60" y="192" width="346.9" height="2" fill="url(#eEyO)" opacity="0.448" transform="translate(-8.70)"/><rect x="716.36" y="194" width="346.9" height="2" fill="url(#eEyO)" opacity="0.447" transform="translate(-8.46)"/><rect x="716.13" y="196" width="346.9" height="2" fill="url(#eEyO)" opacity="0.445" transform="translate(-8.23)"/><rect x="715.90" y="198" width="346.9" height="2" fill="url(#eEyO)" opacity="0.444" transform="translate(-8.00)"/><rect x="715.68" y="200" width="346.9" height="2" fill="url(#eEyO)" opacity="0.442" transform="translate(-7.78)"/><rect x="715.46" y="202" width="346.9" height="2" fill="url(#eEyO)" opacity="0.440" transform="translate(-7.56)"/><rect x="715.24" y="204" width="346.9" height="2" fill="url(#eEyO)" opacity="0.437" transform="translate(-7.34)"/><rect x="715.02" y="206" width="346.9" height="2" fill="url(#eEyO)" opacity="0.434" transform="translate(-7.12)"/><rect x="714.81" y="208" width="346.9" height="2" fill="url(#eEyO)" opacity="0.431" transform="translate(-6.91)"/><rect x="714.60" y="210" width="346.9" height="2" fill="url(#eEyO)" opacity="0.427" transform="translate(-6.70)"/><rect x="714.40" y="212" width="346.9" height="2" fill="url(#eEyO)" opacity="0.422" transform="translate(-6.50)"/><rect x="714.20" y="214" width="346.9" height="2" fill="url(#eEyO)" opacity="0.418" transform="translate(-6.30)"/><rect x="714.00" y="216" width="346.9" height="2" fill="url(#eEyO)" opacity="0.412" transform="translate(-6.10)"/><rect x="713.80" y="218" width="346.9" height="2" fill="url(#eEyO)" opacity="0.406" transform="translate(-5.90)"/><rect x="713.61" y="220" width="346.9" height="2" fill="url(#eEyO)" opacity="0.400" transform="translate(-5.71)"/><rect x="713.42" y="222" width="346.9" height="2" fill="url(#eEyO)" opacity="0.393" transform="translate(-5.52)"/><rect x="713.23" y="224" width="346.9" height="2" fill="url(#eEyO)" opacity="0.385" transform="translate(-5.33)"/><rect x="713.05" y="226" width="346.9" height="2" fill="url(#eEyO)" opacity="0.377" transform="translate(-5.15)"/><rect x="712.87" y="228" width="346.9" height="2" fill="url(#eEyO)" opacity="0.352" transform="translate(-4.97)"/><rect x="712.69" y="230" width="346.9" height="2" fill="url(#eEyO)" opacity="0.310" transform="translate(-4.79)"/><rect x="712.52" y="232" width="346.9" height="2" fill="url(#eEyO)" opacity="0.254" transform="translate(-4.62)"/><rect x="712.35" y="234" width="346.9" height="2" fill="url(#eEyO)" opacity="0.187" transform="translate(-4.45)"/><rect x="712.18" y="236" width="346.9" height="2" fill="url(#eEyO)" opacity="0.115" transform="translate(-4.28)"/><rect x="712.02" y="238" width="346.9" height="2" fill="url(#eEyO)" opacity="0.070" transform="translate(-4.12)"/><rect x="711.86" y="240" width="346.9" height="2" fill="url(#eEyI)" opacity="0.070" transform="translate(-3.96)"/><rect x="711.70" y="242" width="346.9" height="2" fill="url(#eEyI)" opacity="0.110" transform="translate(-3.80)"/><rect x="711.54" y="244" width="346.9" height="2" fill="url(#eEyI)" opacity="0.175" transform="translate(-3.64)"/><rect x="711.39" y="246" width="346.9" height="2" fill="url(#eEyI)" opacity="0.229" transform="translate(-3.49)"/><rect x="711.25" y="248" width="346.9" height="2" fill="url(#eEyI)" opacity="0.269" transform="translate(-3.35)"/><rect x="711.10" y="250" width="346.9" height="2" fill="url(#eEyI)" opacity="0.292" transform="translate(-3.20)"/><rect x="710.96" y="252" width="346.9" height="2" fill="url(#eEyI)" opacity="0.311" transform="translate(-3.06)"/><rect x="710.82" y="254" width="346.9" height="2" fill="url(#eEyI)" opacity="0.330" transform="translate(-2.92)"/><rect x="710.69" y="256" width="346.9" height="2" fill="url(#eEyI)" opacity="0.350" transform="translate(-2.79)"/><rect x="710.55" y="258" width="346.9" height="2" fill="url(#eEyI)" opacity="0.371" transform="translate(-2.65)"/><rect x="710.42" y="260" width="346.9" height="2" fill="url(#eEyI)" opacity="0.392" transform="translate(-2.52)"/><rect x="710.30" y="262" width="346.9" height="2" fill="url(#eEyI)" opacity="0.414" transform="translate(-2.40)"/><rect x="710.18" y="264" width="346.9" height="2" fill="url(#eEyI)" opacity="0.436" transform="translate(-2.28)"/><rect x="710.06" y="266" width="346.9" height="2" fill="url(#eEyI)" opacity="0.458" transform="translate(-2.16)"/><rect x="709.94" y="268" width="346.9" height="2" fill="url(#eEyI)" opacity="0.481" transform="translate(-2.04)"/><rect x="709.83" y="270" width="346.9" height="2" fill="url(#eEyI)" opacity="0.505" transform="translate(-1.93)"/><rect x="709.72" y="272" width="346.9" height="2" fill="url(#eEyI)" opacity="0.528" transform="translate(-1.82)"/><rect x="709.61" y="274" width="346.9" height="2" fill="url(#eEyI)" opacity="0.552" transform="translate(-1.71)"/><rect x="709.51" y="276" width="346.9" height="2" fill="url(#eEyI)" opacity="0.576" transform="translate(-1.61)"/><rect x="709.41" y="278" width="346.9" height="2" fill="url(#eEyI)" opacity="0.600" transform="translate(-1.51)"/><rect x="709.31" y="280" width="346.9" height="2" fill="url(#eEyI)" opacity="0.624" transform="translate(-1.41)"/><rect x="709.22" y="282" width="346.9" height="2" fill="url(#eEyI)" opacity="0.648" transform="translate(-1.32)"/><rect x="709.13" y="284" width="346.9" height="2" fill="url(#eEyI)" opacity="0.672" transform="translate(-1.23)"/><rect x="709.04" y="286" width="346.9" height="2" fill="url(#eEyI)" opacity="0.696" transform="translate(-1.14)"/><rect x="708.96" y="288" width="346.9" height="2" fill="url(#eEyI)" opacity="0.719" transform="translate(-1.06)"/><rect x="708.88" y="290" width="346.9" height="2" fill="url(#eEyI)" opacity="0.742" transform="translate(-0.98)"/><rect x="708.80" y="292" width="346.9" height="2" fill="url(#eEyI)" opacity="0.765" transform="translate(-0.90)"/><rect x="708.73" y="294" width="346.9" height="2" fill="url(#eEyI)" opacity="0.787" transform="translate(-0.83)"/><rect x="708.66" y="296" width="346.9" height="2" fill="url(#eEyI)" opacity="0.809" transform="translate(-0.76)"/><rect x="708.59" y="298" width="346.9" height="2" fill="url(#eEyI)" opacity="0.830" transform="translate(-0.69)"/><rect x="708.52" y="300" width="346.9" height="2" fill="url(#eEyI)" opacity="0.850" transform="translate(-0.62)"/><rect x="708.46" y="302" width="346.9" height="2" fill="url(#eEyI)" opacity="0.870" transform="translate(-0.56)"/><rect x="708.40" y="304" width="346.9" height="2" fill="url(#eEyI)" opacity="0.889" transform="translate(-0.50)"/><rect x="708.35" y="306" width="346.9" height="2" fill="url(#eEyI)" opacity="0.907" transform="translate(-0.45)"/><rect x="708.30" y="308" width="346.9" height="2" fill="url(#eEyI)" opacity="0.924" transform="translate(-0.40)"/><rect x="708.25" y="310" width="346.9" height="2" fill="url(#eEyI)" opacity="0.940" transform="translate(-0.35)"/><rect x="708.20" y="312" width="346.9" height="2" fill="url(#eEyI)" opacity="0.955" transform="translate(-0.30)"/><rect x="708.16" y="314" width="346.9" height="2" fill="url(#eEyI)" opacity="0.969" transform="translate(-0.26)"/><rect x="708.12" y="316" width="346.9" height="2" fill="url(#eEyI)" opacity="0.982" transform="translate(-0.22)"/><rect x="708.08" y="318" width="346.9" height="2" fill="url(#eEyI)" opacity="0.994" transform="translate(-0.18)"/><rect x="708.05" y="320" width="346.9" height="2" fill="url(#eEyI)" opacity="1.000" transform="translate(-0.15)"/><rect x="708.02" y="322" width="346.9" height="2" fill="url(#eEyI)" opacity="1.000" transform="translate(-0.12)"/><rect x="708.00" y="324" width="346.9" height="2" fill="url(#eEyI)" opacity="1.000" transform="translate(-0.10)"/><rect x="707.97" y="326" width="346.9" height="2" fill="url(#eEyI)" opacity="1.000" transform="translate(-0.07)"/><rect x="707.95" y="328" width="346.9" height="2" fill="url(#eEyI)" opacity="1.000" transform="translate(-0.05)"/><rect x="707.94" y="330" width="346.9" height="2" fill="url(#eEyI)" opacity="1.000" transform="translate(-0.04)"/><rect x="707.92" y="332" width="346.9" height="2" fill="url(#eEyI)" opacity="1.000" transform="translate(-0.02)"/><rect x="707.91" y="334" width="346.9" height="2" fill="url(#eEyI)" opacity="1.000" transform="translate(-0.01)"/><rect x="707.90" y="336" width="346.9" height="2" fill="url(#eEyI)" opacity="1.000" transform="translate(-0.00)"/><rect x="707.90" y="338" width="346.9" height="2" fill="url(#eEyI)" opacity="1.000" transform="translate(-0.00)"/><rect x="707.90" y="340" width="346.9" height="2" fill="url(#eEyI)" opacity="1.000" transform="translate(-0.00)"/><rect x="707.90" y="342" width="346.9" height="2" fill="url(#eEyI)" opacity="1.000" transform="translate(-0.00)"/><rect x="707.91" y="344" width="346.9" height="2" fill="url(#eEyI)" opacity="1.000" transform="translate(-0.01)"/><rect x="707.92" y="346" width="346.9" height="2" fill="url(#eEyI)" opacity="1.000" transform="translate(-0.02)"/><rect x="707.93" y="348" width="346.9" height="2" fill="url(#eEyI)" opacity="1.000" transform="translate(-0.03)"/><rect x="707.94" y="350" width="346.9" height="2" fill="url(#eEyI)" opacity="1.000" transform="translate(-0.04)"/><rect x="707.96" y="352" width="346.9" height="2" fill="url(#eEyI)" opacity="1.000" transform="translate(-0.06)"/><rect x="707.98" y="354" width="346.9" height="2" fill="url(#eEyI)" opacity="1.000" transform="translate(-0.08)"/><rect x="708.01" y="356" width="346.9" height="2" fill="url(#eEyI)" opacity="1.000" transform="translate(-0.11)"/><rect x="708.04" y="358" width="346.9" height="2" fill="url(#eEyI)" opacity="1.000" transform="translate(-0.14)"/><rect x="708.07" y="360" width="346.9" height="2" fill="url(#eEyI)" opacity="0.989" transform="translate(-0.17)"/><rect x="708.10" y="362" width="346.9" height="2" fill="url(#eEyI)" opacity="0.976" transform="translate(-0.20)"/><rect x="708.14" y="364" width="346.9" height="2" fill="url(#eEyI)" opacity="0.961" transform="translate(-0.24)"/><rect x="708.18" y="366" width="346.9" height="2" fill="url(#eEyI)" opacity="0.945" transform="translate(-0.28)"/><rect x="708.23" y="368" width="346.9" height="2" fill="url(#eEyI)" opacity="0.928" transform="translate(-0.33)"/><rect x="708.27" y="370" width="346.9" height="2" fill="url(#eEyI)" opacity="0.910" transform="translate(-0.37)"/><rect x="708.32" y="372" width="346.9" height="2" fill="url(#eEyI)" opacity="0.891" transform="translate(-0.42)"/><rect x="708.38" y="374" width="346.9" height="2" fill="url(#eEyI)" opacity="0.871" transform="translate(-0.48)"/><rect x="708.43" y="376" width="346.9" height="2" fill="url(#eEyI)" opacity="0.850" transform="translate(-0.53)"/><rect x="708.49" y="378" width="346.9" height="2" fill="url(#eEyI)" opacity="0.827" transform="translate(-0.59)"/><rect x="708.56" y="380" width="346.9" height="2" fill="url(#eEyI)" opacity="0.805" transform="translate(-0.66)"/><rect x="708.62" y="382" width="346.9" height="2" fill="url(#eEyI)" opacity="0.781" transform="translate(-0.72)"/><rect x="708.69" y="384" width="346.9" height="2" fill="url(#eEyI)" opacity="0.757" transform="translate(-0.79)"/><rect x="708.77" y="386" width="346.9" height="2" fill="url(#eEyI)" opacity="0.732" transform="translate(-0.87)"/><rect x="708.84" y="388" width="346.9" height="2" fill="url(#eEyI)" opacity="0.707" transform="translate(-0.94)"/><rect x="708.92" y="390" width="346.9" height="2" fill="url(#eEyI)" opacity="0.681" transform="translate(-1.02)"/><rect x="709.00" y="392" width="346.9" height="2" fill="url(#eEyI)" opacity="0.656" transform="translate(-1.10)"/><rect x="709.09" y="394" width="346.9" height="2" fill="url(#eEyI)" opacity="0.630" transform="translate(-1.19)"/><rect x="709.18" y="396" width="346.9" height="2" fill="url(#eEyI)" opacity="0.604" transform="translate(-1.28)"/><rect x="709.27" y="398" width="346.9" height="2" fill="url(#eEyI)" opacity="0.578" transform="translate(-1.37)"/><rect x="709.37" y="400" width="346.9" height="2" fill="url(#eEyI)" opacity="0.552" transform="translate(-1.47)"/><rect x="709.47" y="402" width="346.9" height="2" fill="url(#eEyI)" opacity="0.526" transform="translate(-1.57)"/><rect x="709.57" y="404" width="346.9" height="2" fill="url(#eEyI)" opacity="0.501" transform="translate(-1.67)"/><rect x="709.67" y="406" width="346.9" height="2" fill="url(#eEyI)" opacity="0.476" transform="translate(-1.77)"/><rect x="709.78" y="408" width="346.9" height="2" fill="url(#eEyI)" opacity="0.451" transform="translate(-1.88)"/><rect x="709.89" y="410" width="346.9" height="2" fill="url(#eEyI)" opacity="0.427" transform="translate(-1.99)"/><rect x="710.01" y="412" width="346.9" height="2" fill="url(#eEyI)" opacity="0.403" transform="translate(-2.11)"/><rect x="710.12" y="414" width="346.9" height="2" fill="url(#eEyI)" opacity="0.380" transform="translate(-2.22)"/><rect x="710.24" y="416" width="346.9" height="2" fill="url(#eEyI)" opacity="0.358" transform="translate(-2.34)"/><rect x="710.37" y="418" width="346.9" height="2" fill="url(#eEyI)" opacity="0.336" transform="translate(-2.47)"/><rect x="710.50" y="420" width="346.9" height="2" fill="url(#eEyI)" opacity="0.315" transform="translate(-2.60)"/><rect x="710.63" y="422" width="346.9" height="2" fill="url(#eEyI)" opacity="0.294" transform="translate(-2.73)"/><rect x="710.76" y="424" width="346.9" height="2" fill="url(#eEyI)" opacity="0.259" transform="translate(-2.86)"/><rect x="710.90" y="426" width="346.9" height="2" fill="url(#eEyI)" opacity="0.209" transform="translate(-3.00)"/><rect x="711.04" y="428" width="346.9" height="2" fill="url(#eEyI)" opacity="0.147" transform="translate(-3.14)"/><rect x="711.18" y="430" width="346.9" height="2" fill="url(#eEyI)" opacity="0.080" transform="translate(-3.28)"/><rect x="711.33" y="432" width="346.9" height="2" fill="url(#eEyO)" opacity="0.080" transform="translate(-3.43)"/><rect x="711.48" y="434" width="346.9" height="2" fill="url(#eEyO)" opacity="0.080" transform="translate(-3.58)"/><rect x="711.63" y="436" width="346.9" height="2" fill="url(#eEyO)" opacity="0.154" transform="translate(-3.73)"/><rect x="711.78" y="438" width="346.9" height="2" fill="url(#eEyO)" opacity="0.225" transform="translate(-3.88)"/><rect x="711.94" y="440" width="346.9" height="2" fill="url(#eEyO)" opacity="0.287" transform="translate(-4.04)"/><rect x="712.11" y="442" width="346.9" height="2" fill="url(#eEyO)" opacity="0.337" transform="translate(-4.21)"/><rect x="712.27" y="444" width="346.9" height="2" fill="url(#eEyO)" opacity="0.371" transform="translate(-4.37)"/><rect x="712.44" y="446" width="346.9" height="2" fill="url(#eEyO)" opacity="0.387" transform="translate(-4.54)"/><rect x="712.61" y="448" width="346.9" height="2" fill="url(#eEyO)" opacity="0.397" transform="translate(-4.71)"/><rect x="712.79" y="450" width="346.9" height="2" fill="url(#eEyO)" opacity="0.406" transform="translate(-4.89)"/><rect x="712.97" y="452" width="346.9" height="2" fill="url(#eEyO)" opacity="0.415" transform="translate(-5.07)"/><rect x="713.15" y="454" width="346.9" height="2" fill="url(#eEyO)" opacity="0.421" transform="translate(-5.25)"/><rect x="713.33" y="456" width="346.9" height="2" fill="url(#eEyO)" opacity="0.427" transform="translate(-5.43)"/><rect x="713.52" y="458" width="346.9" height="2" fill="url(#eEyO)" opacity="0.432" transform="translate(-5.62)"/><rect x="713.71" y="460" width="346.9" height="2" fill="url(#eEyO)" opacity="0.437" transform="translate(-5.81)"/><rect x="713.91" y="462" width="346.9" height="2" fill="url(#eEyO)" opacity="0.441" transform="translate(-6.01)"/><rect x="714.11" y="464" width="346.9" height="2" fill="url(#eEyO)" opacity="0.444" transform="translate(-6.21)"/><rect x="714.31" y="466" width="346.9" height="2" fill="url(#eEyO)" opacity="0.447" transform="translate(-6.41)"/><rect x="714.51" y="468" width="346.9" height="2" fill="url(#eEyO)" opacity="0.450" transform="translate(-6.61)"/><rect x="714.72" y="470" width="346.9" height="2" fill="url(#eEyO)" opacity="0.452" transform="translate(-6.82)"/><rect x="714.93" y="472" width="346.9" height="2" fill="url(#eEyO)" opacity="0.454" transform="translate(-7.03)"/><rect x="715.14" y="474" width="346.9" height="2" fill="url(#eEyO)" opacity="0.456" transform="translate(-7.24)"/><rect x="715.36" y="476" width="346.9" height="2" fill="url(#eEyO)" opacity="0.457" transform="translate(-7.46)"/><rect x="715.58" y="478" width="346.9" height="2" fill="url(#eEyO)" opacity="0.458" transform="translate(-7.68)"/><rect x="715.80" y="480" width="346.9" height="2" fill="url(#eEyO)" opacity="0.459" transform="translate(-7.90)"/><rect x="716.03" y="482" width="346.9" height="2" fill="url(#eEyO)" opacity="0.459" transform="translate(-8.13)"/><rect x="716.26" y="484" width="346.9" height="2" fill="url(#eEyO)" opacity="0.459" transform="translate(-8.36)"/><rect x="716.49" y="486" width="346.9" height="2" fill="url(#eEyO)" opacity="0.460" transform="translate(-8.59)"/><rect x="716.73" y="488" width="346.9" height="2" fill="url(#eEyO)" opacity="0.459" transform="translate(-8.83)"/><rect x="716.97" y="490" width="346.9" height="2" fill="url(#eEyO)" opacity="0.459" transform="translate(-9.07)"/><rect x="717.21" y="492" width="346.9" height="2" fill="url(#eEyO)" opacity="0.458" transform="translate(-9.31)"/><rect x="717.45" y="494" width="346.9" height="2" fill="url(#eEyO)" opacity="0.458" transform="translate(-9.55)"/><rect x="717.70" y="496" width="346.9" height="2" fill="url(#eEyO)" opacity="0.457" transform="translate(-9.80)"/><rect x="717.96" y="498" width="346.9" height="2" fill="url(#eEyO)" opacity="0.456" transform="translate(-10.06)"/><rect x="718.21" y="500" width="346.9" height="2" fill="url(#eEyO)" opacity="0.455" transform="translate(-10.31)"/><rect x="718.47" y="502" width="346.9" height="2" fill="url(#eEyO)" opacity="0.454" transform="translate(-10.57)"/><rect x="718.73" y="504" width="346.9" height="2" fill="url(#eEyO)" opacity="0.453" transform="translate(-10.83)"/><rect x="719.00" y="506" width="346.9" height="2" fill="url(#eEyO)" opacity="0.452" transform="translate(-11.10)"/><rect x="719.26" y="508" width="346.9" height="2" fill="url(#eEyO)" opacity="0.451" transform="translate(-11.36)"/><rect x="719.53" y="510" width="346.9" height="2" fill="url(#eEyO)" opacity="0.449" transform="translate(-11.63)"/><rect x="719.81" y="512" width="346.9" height="2" fill="url(#eEyO)" opacity="0.448" transform="translate(-11.91)"/><rect x="720.09" y="514" width="346.9" height="2" fill="url(#eEyO)" opacity="0.446" transform="translate(-12.19)"/><rect x="720.37" y="516" width="346.9" height="2" fill="url(#eEyO)" opacity="0.445" transform="translate(-12.47)"/><rect x="720.65" y="518" width="346.9" height="2" fill="url(#eEyO)" opacity="0.444" transform="translate(-12.75)"/><rect x="720.94" y="520" width="346.9" height="2" fill="url(#eEyO)" opacity="0.442" transform="translate(-13.04)"/><rect x="721.23" y="522" width="346.9" height="2" fill="url(#eEyO)" opacity="0.440" transform="translate(-13.33)"/><rect x="721.52" y="524" width="346.9" height="2" fill="url(#eEyO)" opacity="0.439" transform="translate(-13.62)"/><rect x="721.82" y="526" width="346.9" height="2" fill="url(#eEyO)" opacity="0.437" transform="translate(-13.92)"/><rect x="722.12" y="528" width="346.9" height="2" fill="url(#eEyO)" opacity="0.436" transform="translate(-14.22)"/><rect x="722.42" y="530" width="346.9" height="2" fill="url(#eEyO)" opacity="0.434" transform="translate(-14.52)"/><rect x="722.73" y="532" width="346.9" height="2" fill="url(#eEyO)" opacity="0.433" transform="translate(-14.83)"/><rect x="723.04" y="534" width="346.9" height="2" fill="url(#eEyO)" opacity="0.431" transform="translate(-15.14)"/><rect x="723.35" y="536" width="346.9" height="2" fill="url(#eEyO)" opacity="0.429" transform="translate(-15.45)"/><rect x="723.67" y="538" width="346.9" height="2" fill="url(#eEyO)" opacity="0.428" transform="translate(-15.77)"/><rect x="723.99" y="540" width="346.9" height="2" fill="url(#eEyO)" opacity="0.426" transform="translate(-16.09)"/><rect x="724.31" y="542" width="346.9" height="2" fill="url(#eEyO)" opacity="0.424" transform="translate(-16.41)"/><rect x="724.64" y="544" width="346.9" height="2" fill="url(#eEyO)" opacity="0.423" transform="translate(-16.74)"/><rect x="724.97" y="546" width="346.9" height="2" fill="url(#eEyO)" opacity="0.421" transform="translate(-17.07)"/><rect x="725.30" y="548" width="346.9" height="2" fill="url(#eEyO)" opacity="0.419" transform="translate(-17.40)"/><rect x="725.63" y="550" width="346.9" height="2" fill="url(#eEyO)" opacity="0.418" transform="translate(-17.73)"/><rect x="725.97" y="552" width="346.9" height="2" fill="url(#eEyO)" opacity="0.416" transform="translate(-18.07)"/><rect x="726.31" y="554" width="346.9" height="2" fill="url(#eEyO)" opacity="0.415" transform="translate(-18.41)"/><rect x="726.66" y="556" width="346.9" height="2" fill="url(#eEyO)" opacity="0.413" transform="translate(-18.76)"/><rect x="727.01" y="558" width="346.9" height="2" fill="url(#eEyO)" opacity="0.411" transform="translate(-19.11)"/><rect x="727.36" y="560" width="346.9" height="2" fill="url(#eEyO)" opacity="0.410" transform="translate(-19.46)"/><rect x="727.71" y="562" width="346.9" height="2" fill="url(#eEyO)" opacity="0.408" transform="translate(-19.81)"/><rect x="728.07" y="564" width="346.9" height="2" fill="url(#eEyO)" opacity="0.406" transform="translate(-20.17)"/><rect x="728.43" y="566" width="346.9" height="2" fill="url(#eEyO)" opacity="0.405" transform="translate(-20.53)"/><rect x="728.79" y="568" width="346.9" height="2" fill="url(#eEyO)" opacity="0.403" transform="translate(-20.89)"/><rect x="729.07" y="570" width="346.9" height="1" fill="url(#eEyO)" opacity="0.402" transform="translate(-21.17)"/></mask><clipPath id="cL"><rect x="150.0" y="109.0" width="346.9" height="462.9"/></clipPath><clipPath id="cR"><rect x="707.9" y="109.0" width="346.9" height="462.9"/></clipPath><linearGradient id="seis" x1="0" y1="0" x2="0" y2="1"><stop offset="0" stop-color="rgb(128,0,0)"/><stop offset="0.25" stop-color="rgb(255,0,0)"/><stop offset="0.5" stop-color="rgb(255,255,255)"/><stop offset="0.75" stop-color="rgb(0,0,255)"/><stop offset="1" stop-color="rgb(0,0,77)"/></linearGradient></defs>
<rect width="1200" height="675" fill="#fff"/>
<text x="599.6" y="33.75" font-size="30" text-anchor="middle">time = 177.0 fs</text>
<rect x="151.4" y="111.2" width="344.3" height="458.5" fill="rgb(255,253,253)"/>
<svg x="151.4" y="111.2" width="344.3" height="458.5" viewBox="151.4 111.2 344.3 458.5" overflow="hidden"><g mask="url(#mEz)">
<g shape-rendering="crispEdges"><rect x="9.19" y="110" width="346.9" height="2" fill="url(#gEz)" transform="translate(140.81)"/><rect x="8.98" y="112" width="346.9" height="2" fill="url(#gEz)" transform="translate(141.02)"/><rect x="8.78" y="114" width="346.9" height="2" fill="url(#gEz)" transform="translate(141.22)"/><rect x="8.56" y="116" width="346.9" height="2" fill="url(#gEz)" transform="translate(141.44)"/><rect x="8.35" y="118" width="346.9" height="2" fill="url(#gEz)" transform="translate(141.65)"/><rect x="8.13" y="120" width="346.9" height="2" fill="url(#gEz)" transform="translate(141.87)"/><rect x="7.91" y="122" width="346.9" height="2" fill="url(#gEz)" transform="translate(142.09)"/><rect x="7.68" y="124" width="346.9" height="2" fill="url(#gEz)" transform="translate(142.32)"/><rect x="7.45" y="126" width="346.9" height="2" fill="url(#gEz)" transform="translate(142.55)"/><rect x="7.22" y="128" width="346.9" height="2" fill="url(#gEz)" transform="translate(142.78)"/><rect x="6.98" y="130" width="346.9" height="2" fill="url(#gEz)" transform="translate(143.02)"/><rect x="6.74" y="132" width="346.9" height="2" fill="url(#gEz)" transform="translate(143.26)"/><rect x="6.49" y="134" width="346.9" height="2" fill="url(#gEz)" transform="translate(143.51)"/><rect x="6.24" y="136" width="346.9" height="2" fill="url(#gEz)" transform="translate(143.76)"/><rect x="5.99" y="138" width="346.9" height="2" fill="url(#gEz)" transform="translate(144.01)"/><rect x="5.73" y="140" width="346.9" height="2" fill="url(#gEz)" transform="translate(144.27)"/><rect x="5.47" y="142" width="346.9" height="2" fill="url(#gEz)" transform="translate(144.53)"/><rect x="5.20" y="144" width="346.9" height="2" fill="url(#gEz)" transform="translate(144.80)"/><rect x="4.93" y="146" width="346.9" height="2" fill="url(#gEz)" transform="translate(145.07)"/><rect x="4.66" y="148" width="346.9" height="2" fill="url(#gEz)" transform="translate(145.34)"/><rect x="4.38" y="150" width="346.9" height="2" fill="url(#gEz)" transform="translate(145.62)"/><rect x="4.10" y="152" width="346.9" height="2" fill="url(#gEz)" transform="translate(145.90)"/><rect x="3.82" y="154" width="346.9" height="2" fill="url(#gEz)" transform="translate(146.18)"/><rect x="3.53" y="156" width="346.9" height="2" fill="url(#gEz)" transform="translate(146.47)"/><rect x="3.24" y="158" width="346.9" height="2" fill="url(#gEz)" transform="translate(146.76)"/><rect x="2.95" y="160" width="346.9" height="2" fill="url(#gEz)" transform="translate(147.05)"/><rect x="2.65" y="162" width="346.9" height="2" fill="url(#gEz)" transform="translate(147.35)"/><rect x="2.35" y="164" width="346.9" height="2" fill="url(#gEz)" transform="translate(147.65)"/><rect x="2.05" y="166" width="346.9" height="2" fill="url(#gEz)" transform="translate(147.95)"/><rect x="1.74" y="168" width="346.9" height="2" fill="url(#gEz)" transform="translate(148.26)"/><rect x="1.43" y="170" width="346.9" height="2" fill="url(#gEz)" transform="translate(148.57)"/><rect x="1.12" y="172" width="346.9" height="2" fill="url(#gEz)" transform="translate(148.88)"/><rect x="0.81" y="174" width="346.9" height="2" fill="url(#gEz)" transform="translate(149.19)"/><rect x="0.49" y="176" width="346.9" height="2" fill="url(#gEz)" transform="translate(149.51)"/><rect x="0.17" y="178" width="346.9" height="2" fill="url(#gEz)" transform="translate(149.83)"/><rect x="23.15" y="180" width="346.9" height="2" fill="url(#gEz)" transform="translate(126.85)"/><rect x="22.82" y="182" width="346.9" height="2" fill="url(#gEz)" transform="translate(127.18)"/><rect x="22.50" y="184" width="346.9" height="2" fill="url(#gEz)" transform="translate(127.50)"/><rect x="22.17" y="186" width="346.9" height="2" fill="url(#gEz)" transform="translate(127.83)"/><rect x="21.84" y="188" width="346.9" height="2" fill="url(#gEz)" transform="translate(128.16)"/><rect x="21.51" y="190" width="346.9" height="2" fill="url(#gEz)" transform="translate(128.49)"/><rect x="21.17" y="192" width="346.9" height="2" fill="url(#gEz)" transform="translate(128.83)"/><rect x="20.84" y="194" width="346.9" height="2" fill="url(#gEz)" transform="translate(129.16)"/><rect x="20.50" y="196" width="346.9" height="2" fill="url(#gEz)" transform="translate(129.50)"/><rect x="20.16" y="198" width="346.9" height="2" fill="url(#gEz)" transform="translate(129.84)"/><rect x="19.82" y="200" width="346.9" height="2" fill="url(#gEz)" transform="translate(130.18)"/><rect x="19.48" y="202" width="346.9" height="2" fill="url(#gEz)" transform="translate(130.52)"/><rect x="19.14" y="204" width="346.9" height="2" fill="url(#gEz)" transform="translate(130.86)"/><rect x="18.80" y="206" width="346.9" height="2" fill="url(#gEz)" transform="translate(131.20)"/><rect x="18.45" y="208" width="346.9" height="2" fill="url(#gEz)" transform="translate(131.55)"/><rect x="18.11" y="210" width="346.9" height="2" fill="url(#gEz)" transform="translate(131.89)"/><rect x="17.77" y="212" width="346.9" height="2" fill="url(#gEz)" transform="translate(132.23)"/><rect x="17.43" y="214" width="346.9" height="2" fill="url(#gEz)" transform="translate(132.57)"/><rect x="17.08" y="216" width="346.9" height="2" fill="url(#gEz)" transform="translate(132.92)"/><rect x="16.74" y="218" width="346.9" height="2" fill="url(#gEz)" transform="translate(133.26)"/><rect x="16.40" y="220" width="346.9" height="2" fill="url(#gEz)" transform="translate(133.60)"/><rect x="16.06" y="222" width="346.9" height="2" fill="url(#gEz)" transform="translate(133.94)"/><rect x="15.72" y="224" width="346.9" height="2" fill="url(#gEz)" transform="translate(134.28)"/><rect x="15.38" y="226" width="346.9" height="2" fill="url(#gEz)" transform="translate(134.62)"/><rect x="15.04" y="228" width="346.9" height="2" fill="url(#gEz)" transform="translate(134.96)"/><rect x="14.70" y="230" width="346.9" height="2" fill="url(#gEz)" transform="translate(135.30)"/><rect x="14.37" y="232" width="346.9" height="2" fill="url(#gEz)" transform="translate(135.63)"/><rect x="14.03" y="234" width="346.9" height="2" fill="url(#gEz)" transform="translate(135.97)"/><rect x="13.70" y="236" width="346.9" height="2" fill="url(#gEz)" transform="translate(136.30)"/><rect x="13.37" y="238" width="346.9" height="2" fill="url(#gEz)" transform="translate(136.63)"/><rect x="13.04" y="240" width="346.9" height="2" fill="url(#gEz)" transform="translate(136.96)"/><rect x="12.72" y="242" width="346.9" height="2" fill="url(#gEz)" transform="translate(137.28)"/><rect x="12.40" y="244" width="346.9" height="2" fill="url(#gEz)" transform="translate(137.60)"/><rect x="12.08" y="246" width="346.9" height="2" fill="url(#gEz)" transform="translate(137.92)"/><rect x="11.76" y="248" width="346.9" height="2" fill="url(#gEz)" transform="translate(138.24)"/><rect x="11.45" y="250" width="346.9" height="2" fill="url(#gEz)" transform="translate(138.55)"/><rect x="11.14" y="252" width="346.9" height="2" fill="url(#gEz)" transform="translate(138.86)"/><rect x="10.84" y="254" width="346.9" height="2" fill="url(#gEz)" transform="translate(139.16)"/><rect x="10.54" y="256" width="346.9" height="2" fill="url(#gEz)" transform="translate(139.46)"/><rect x="10.24" y="258" width="346.9" height="2" fill="url(#gEz)" transform="translate(139.76)"/><rect x="9.95" y="260" width="346.9" height="2" fill="url(#gEz)" transform="translate(140.05)"/><rect x="9.66" y="262" width="346.9" height="2" fill="url(#gEz)" transform="translate(140.34)"/><rect x="9.38" y="264" width="346.9" height="2" fill="url(#gEz)" transform="translate(140.62)"/><rect x="9.10" y="266" width="346.9" height="2" fill="url(#gEz)" transform="translate(140.90)"/><rect x="8.82" y="268" width="346.9" height="2" fill="url(#gEz)" transform="translate(141.18)"/><rect x="8.55" y="270" width="346.9" height="2" fill="url(#gEz)" transform="translate(141.45)"/><rect x="8.29" y="272" width="346.9" height="2" fill="url(#gEz)" transform="translate(141.71)"/><rect x="8.03" y="274" width="346.9" height="2" fill="url(#gEz)" transform="translate(141.97)"/><rect x="7.78" y="276" width="346.9" height="2" fill="url(#gEz)" transform="translate(142.22)"/><rect x="7.53" y="278" width="346.9" height="2" fill="url(#gEz)" transform="translate(142.47)"/><rect x="7.29" y="280" width="346.9" height="2" fill="url(#gEz)" transform="translate(142.71)"/><rect x="7.06" y="282" width="346.9" height="2" fill="url(#gEz)" transform="translate(142.94)"/><rect x="6.83" y="284" width="346.9" height="2" fill="url(#gEz)" transform="translate(143.17)"/><rect x="6.61" y="286" width="346.9" height="2" fill="url(#gEz)" transform="translate(143.39)"/><rect x="6.40" y="288" width="346.9" height="2" fill="url(#gEz)" transform="translate(143.60)"/><rect x="6.19" y="290" width="346.9" height="2" fill="url(#gEz)" transform="translate(143.81)"/><rect x="5.99" y="292" width="346.9" height="2" fill="url(#gEz)" transform="translate(144.01)"/><rect x="5.80" y="294" width="346.9" height="2" fill="url(#gEz)" transform="translate(144.20)"/><rect x="5.61" y="296" width="346.9" height="2" fill="url(#gEz)" transform="translate(144.39)"/><rect x="5.43" y="298" width="346.9" height="2" fill="url(#gEz)" transform="translate(144.57)"/><rect x="5.26" y="300" width="346.9" height="2" fill="url(#gEz)" transform="translate(144.74)"/><rect x="5.10" y="302" width="346.9" height="2" fill="url(#gEz)" transform="translate(144.90)"/><rect x="4.94" y="304" width="346.9" height="2" fill="url(#gEz)" transform="translate(145.06)"/><rect x="4.80" y="306" width="346.9" height="2" fill="url(#gEz)" transform="translate(145.20)"/><rect x="4.66" y="308" width="346.9" height="2" fill="url(#gEz)" transform="translate(145.34)"/><rect x="4.53" y="310" width="346.9" height="2" fill="url(#gEz)" transform="translate(145.47)"/><rect x="4.40" y="312" width="346.9" height="2" fill="url(#gEz)" transform="translate(145.60)"/><rect x="4.29" y="314" width="346.9" height="2" fill="url(#gEz)" transform="translate(145.71)"/><rect x="4.18" y="316" width="346.9" height="2" fill="url(#gEz)" transform="translate(145.82)"/><rect x="4.08" y="318" width="346.9" height="2" fill="url(#gEz)" transform="translate(145.92)"/><rect x="3.99" y="320" width="346.9" height="2" fill="url(#gEz)" transform="translate(146.01)"/><rect x="3.91" y="322" width="346.9" height="2" fill="url(#gEz)" transform="translate(146.09)"/><rect x="3.84" y="324" width="346.9" height="2" fill="url(#gEz)" transform="translate(146.16)"/><rect x="3.78" y="326" width="346.9" height="2" fill="url(#gEz)" transform="translate(146.22)"/><rect x="3.72" y="328" width="346.9" height="2" fill="url(#gEz)" transform="translate(146.28)"/><rect x="3.67" y="330" width="346.9" height="2" fill="url(#gEz)" transform="translate(146.33)"/><rect x="3.64" y="332" width="346.9" height="2" fill="url(#gEz)" transform="translate(146.36)"/><rect x="3.61" y="334" width="346.9" height="2" fill="url(#gEz)" transform="translate(146.39)"/><rect x="3.59" y="336" width="346.9" height="2" fill="url(#gEz)" transform="translate(146.41)"/><rect x="3.58" y="338" width="346.9" height="2" fill="url(#gEz)" transform="translate(146.42)"/><rect x="15.22" y="340" width="346.9" height="2" fill="url(#gEz)" transform="translate(134.78)"/><rect x="15.23" y="342" width="346.9" height="2" fill="url(#gEz)" transform="translate(134.77)"/><rect x="15.25" y="344" width="346.9" height="2" fill="url(#gEz)" transform="translate(134.75)"/><rect x="15.27" y="346" width="346.9" height="2" fill="url(#gEz)" transform="translate(134.73)"/><rect x="15.31" y="348" width="346.9" height="2" fill="url(#gEz)" transform="translate(134.69)"/><rect x="15.35" y="350" width="346.9" height="2" fill="url(#gEz)" transform="translate(134.65)"/><rect x="15.40" y="352" width="346.9" height="2" fill="url(#gEz)" transform="translate(134.60)"/><rect x="15.46" y="354" width="346.9" height="2" fill="url(#gEz)" transform="translate(134.54)"/><rect x="15.53" y="356" width="346.9" height="2" fill="url(#gEz)" transform="translate(134.47)"/><rect x="15.60" y="358" width="346.9" height="2" fill="url(#gEz)" transform="translate(134.40)"/><rect x="15.69" y="360" width="346.9" height="2" fill="url(#gEz)" transform="translate(134.31)"/><rect x="15.79" y="362" width="346.9" height="2" fill="url(#gEz)" transform="translate(134.21)"/><rect x="15.89" y="364" width="346.9" height="2" fill="url(#gEz)" transform="translate(134.11)"/><rect x="16.00" y="366" width="346.9" height="2" fill="url(#gEz)" transform="translate(134.00)"/><rect x="16.12" y="368" width="346.9" height="2" fill="url(#gEz)" transform="translate(133.88)"/><rect x="16.25" y="370" width="346.9" height="2" fill="url(#gEz)" transform="translate(133.75)"/><rect x="16.38" y="372" width="346.9" height="2" fill="url(#gEz)" transform="translate(133.62)"/><rect x="16.53" y="374" width="346.9" height="2" fill="url(#gEz)" transform="translate(133.47)"/><rect x="16.68" y="376" width="346.9" height="2" fill="url(#gEz)" transform="translate(133.32)"/><rect x="16.84" y="378" width="346.9" height="2" fill="url(#gEz)" transform="translate(133.16)"/><rect x="17.01" y="380" width="346.9" height="2" fill="url(#gEz)" transform="translate(132.99)"/><rect x="17.18" y="382" width="346.9" height="2" fill="url(#gEz)" transform="translate(132.82)"/><rect x="17.36" y="384" width="346.9" height="2" fill="url(#gEz)" transform="translate(132.64)"/><rect x="17.55" y="386" width="346.9" height="2" fill="url(#gEz)" transform="translate(132.45)"/><rect x="17.75" y="388" width="346.9" height="2" fill="url(#gEz)" transform="translate(132.25)"/><rect x="17.95" y="390" width="346.9" height="2" fill="url(#gEz)" transform="translate(132.05)"/><rect x="18.17" y="392" width="346.9" height="2" fill="url(#gEz)" transform="translate(131.83)"/><rect x="18.38" y="394" width="346.9" height="2" fill="url(#gEz)" transform="translate(131.62)"/><rect x="18.61" y="396" width="346.9" height="2" fill="url(#gEz)" transform="translate(131.39)"/><rect x="18.84" y="398" width="346.9" height="2" fill="url(#gEz)" transform="translate(131.16)"/><rect x="19.08" y="400" width="346.9" height="2" fill="url(#gEz)" transform="translate(130.92)"/><rect x="19.32" y="402" width="346.9" height="2" fill="url(#gEz)" transform="translate(130.68)"/><rect x="19.57" y="404" width="346.9" height="2" fill="url(#gEz)" transform="translate(130.43)"/><rect x="19.82" y="406" width="346.9" height="2" fill="url(#gEz)" transform="translate(130.18)"/><rect x="20.08" y="408" width="346.9" height="2" fill="url(#gEz)" transform="translate(129.92)"/><rect x="20.35" y="410" width="346.9" height="2" fill="url(#gEz)" transform="translate(129.65)"/><rect x="20.62" y="412" width="346.9" height="2" fill="url(#gEz)" transform="translate(129.38)"/><rect x="20.90" y="414" width="346.9" height="2" fill="url(#gEz)" transform="translate(129.10)"/><rect x="21.18" y="416" width="346.9" height="2" fill="url(#gEz)" transform="translate(128.82)"/><rect x="21.47" y="418" width="346.9" height="2" fill="url(#gEz)" transform="translate(128.53)"/><rect x="21.76" y="420" width="346.9" height="2" fill="url(#gEz)" transform="translate(128.24)"/><rect x="22.05" y="422" width="346.9" height="2" fill="url(#gEz)" transform="translate(127.95)"/><rect x="22.35" y="424" width="346.9" height="2" fill="url(#gEz)" transform="translate(127.65)"/><rect x="22.66" y="426" width="346.9" height="2" fill="url(#gEz)" transform="translate(127.34)"/><rect x="22.96" y="428" width="346.9" height="2" fill="url(#gEz)" transform="translate(127.04)"/><rect x="23.27" y="430" width="346.9" height="2" fill="url(#gEz)" transform="translate(126.73)"/><rect x="0.29" y="432" width="346.9" height="2" fill="url(#gEz)" transform="translate(149.71)"/><rect x="0.61" y="434" width="346.9" height="2" fill="url(#gEz)" transform="translate(149.39)"/><rect x="0.93" y="436" width="346.9" height="2" fill="url(#gEz)" transform="translate(149.07)"/><rect x="1.25" y="438" width="346.9" height="2" fill="url(#gEz)" transform="translate(148.75)"/><rect x="1.57" y="440" width="346.9" height="2" fill="url(#gEz)" transform="translate(148.43)"/><rect x="1.90" y="442" width="346.9" height="2" fill="url(#gEz)" transform="translate(148.10)"/><rect x="2.23" y="444" width="346.9" height="2" fill="url(#gEz)" transform="translate(147.77)"/><rect x="2.57" y="446" width="346.9" height="2" fill="url(#gEz)" transform="translate(147.43)"/><rect x="2.90" y="448" width="346.9" height="2" fill="url(#gEz)" transform="translate(147.10)"/><rect x="3.24" y="450" width="346.9" height="2" fill="url(#gEz)" transform="translate(146.76)"/><rect x="3.57" y="452" width="346.9" height="2" fill="url(#gEz)" transform="translate(146.43)"/><rect x="3.91" y="454" width="346.9" height="2" fill="url(#gEz)" transform="translate(146.09)"/><rect x="4.25" y="456" width="346.9" height="2" fill="url(#gEz)" transform="translate(145.75)"/><rect x="4.59" y="458" width="346.9" height="2" fill="url(#gEz)" transform="translate(145.41)"/><rect x="4.94" y="460" width="346.9" height="2" fill="url(#gEz)" transform="translate(145.06)"/><rect x="5.28" y="462" width="346.9" height="2" fill="url(#gEz)" transform="translate(144.72)"/><rect x="5.62" y="464" width="346.9" height="2" fill="url(#gEz)" transform="translate(144.38)"/><rect x="5.96" y="466" width="346.9" height="2" fill="url(#gEz)" transform="translate(144.04)"/><rect x="6.31" y="468" width="346.9" height="2" fill="url(#gEz)" transform="translate(143.69)"/><rect x="6.65" y="470" width="346.9" height="2" fill="url(#gEz)" transform="translate(143.35)"/><rect x="6.99" y="472" width="346.9" height="2" fill="url(#gEz)" transform="translate(143.01)"/><rect x="7.34" y="474" width="346.9" height="2" fill="url(#gEz)" transform="translate(142.66)"/><rect x="7.68" y="476" width="346.9" height="2" fill="url(#gEz)" transform="translate(142.32)"/><rect x="8.02" y="478" width="346.9" height="2" fill="url(#gEz)" transform="translate(141.98)"/><rect x="8.36" y="480" width="346.9" height="2" fill="url(#gEz)" transform="translate(141.64)"/><rect x="8.70" y="482" width="346.9" height="2" fill="url(#gEz)" transform="translate(141.30)"/><rect x="9.03" y="484" width="346.9" height="2" fill="url(#gEz)" transform="translate(140.97)"/><rect x="9.37" y="486" width="346.9" height="2" fill="url(#gEz)" transform="translate(140.63)"/><rect x="9.71" y="488" width="346.9" height="2" fill="url(#gEz)" transform="translate(140.29)"/><rect x="10.04" y="490" width="346.9" height="2" fill="url(#gEz)" transform="translate(139.96)"/><rect x="10.37" y="492" width="346.9" height="2" fill="url(#gEz)" transform="translate(139.63)"/><rect x="10.70" y="494" width="346.9" height="2" fill="url(#gEz)" transform="translate(139.30)"/><rect x="11.03" y="496" width="346.9" height="2" fill="url(#gEz)" transform="translate(138.97)"/><rect x="11.35" y="498" width="346.9" height="2" fill="url(#gEz)" transform="translate(138.65)"/><rect x="11.68" y="500" width="346.9" height="2" fill="url(#gEz)" transform="translate(138.32)"/><rect x="12.00" y="502" width="346.9" height="2" fill="url(#gEz)" transform="translate(138.00)"/><rect x="12.32" y="504" width="346.9" height="2" fill="url(#gEz)" transform="translate(137.68)"/><rect x="12.63" y="506" width="346.9" height="2" fill="url(#gEz)" transform="translate(137.37)"/><rect x="12.94" y="508" width="346.9" height="2" fill="url(#gEz)" transform="translate(137.06)"/><rect x="13.26" y="510" width="346.9" height="2" fill="url(#gEz)" transform="translate(136.74)"/><rect x="13.56" y="512" width="346.9" height="2" fill="url(#gEz)" transform="translate(136.44)"/><rect x="13.87" y="514" width="346.9" height="2" fill="url(#gEz)" transform="translate(136.13)"/><rect x="14.17" y="516" width="346.9" height="2" fill="url(#gEz)" transform="translate(135.83)"/><rect x="14.47" y="518" width="346.9" height="2" fill="url(#gEz)" transform="translate(135.53)"/><rect x="14.76" y="520" width="346.9" height="2" fill="url(#gEz)" transform="translate(135.24)"/><rect x="15.05" y="522" width="346.9" height="2" fill="url(#gEz)" transform="translate(134.95)"/><rect x="15.34" y="524" width="346.9" height="2" fill="url(#gEz)" transform="translate(134.66)"/><rect x="15.63" y="526" width="346.9" height="2" fill="url(#gEz)" transform="translate(134.37)"/><rect x="15.91" y="528" width="346.9" height="2" fill="url(#gEz)" transform="translate(134.09)"/><rect x="16.19" y="530" width="346.9" height="2" fill="url(#gEz)" transform="translate(133.81)"/><rect x="16.46" y="532" width="346.9" height="2" fill="url(#gEz)" transform="translate(133.54)"/><rect x="16.73" y="534" width="346.9" height="2" fill="url(#gEz)" transform="translate(133.27)"/><rect x="17.00" y="536" width="346.9" height="2" fill="url(#gEz)" transform="translate(133.00)"/><rect x="17.26" y="538" width="346.9" height="2" fill="url(#gEz)" transform="translate(132.74)"/><rect x="17.52" y="540" width="346.9" height="2" fill="url(#gEz)" transform="translate(132.48)"/><rect x="17.78" y="542" width="346.9" height="2" fill="url(#gEz)" transform="translate(132.22)"/><rect x="18.03" y="544" width="346.9" height="2" fill="url(#gEz)" transform="translate(131.97)"/><rect x="18.28" y="546" width="346.9" height="2" fill="url(#gEz)" transform="translate(131.72)"/><rect x="18.52" y="548" width="346.9" height="2" fill="url(#gEz)" transform="translate(131.48)"/><rect x="18.76" y="550" width="346.9" height="2" fill="url(#gEz)" transform="translate(131.24)"/><rect x="19.00" y="552" width="346.9" height="2" fill="url(#gEz)" transform="translate(131.00)"/><rect x="19.23" y="554" width="346.9" height="2" fill="url(#gEz)" transform="translate(130.77)"/><rect x="19.46" y="556" width="346.9" height="2" fill="url(#gEz)" transform="translate(130.54)"/><rect x="19.68" y="558" width="346.9" height="2" fill="url(#gEz)" transform="translate(130.32)"/><rect x="19.90" y="560" width="346.9" height="2" fill="url(#gEz)" transform="translate(130.10)"/><rect x="20.12" y="562" width="346.9" height="2" fill="url(#gEz)" transform="translate(129.88)"/><rect x="20.33" y="564" width="346.9" height="2" fill="url(#gEz)" transform="translate(129.67)"/><rect x="20.54" y="566" width="346.9" height="2" fill="url(#gEz)" transform="translate(129.46)"/><rect x="20.74" y="568" width="346.9" height="2" fill="url(#gEz)" transform="translate(129.26)"/><rect x="20.90" y="570" width="346.9" height="1" fill="url(#gEz)" transform="translate(129.10)"/></g>
</g></svg>
<g clip-path="url(#cL)" fill="#1f77b4">
<circle cx="159.5" cy="305.5" r="4.35"/><circle cx="210.5" cy="299.4" r="4.35"/><circle cx="295.4" cy="112.7" r="4.35"/><circle cx="302.5" cy="135.3" r="4.35"/><circle cx="301.5" cy="146.2" r="4.35"/><circle cx="279.3" cy="170.8" r="4.35"/><circle cx="318.4" cy="118.9" r="4.35"/><circle cx="323.9" cy="123.8" r="4.35"/><circle cx="323.4" cy="128.8" r="4.35"/><circle cx="324.9" cy="126.3" r="4.35"/><circle cx="325.4" cy="138.2" r="4.35"/><circle cx="317.4" cy="142.2" r="4.35"/><circle cx="327.4" cy="148.7" r="4.35"/><circle cx="327.7" cy="151.6" r="4.35"/><circle cx="344.2" cy="114.9" r="4.35"/><circle cx="369.3" cy="114.9" r="4.35"/><circle cx="352.5" cy="130.3" r="4.35"/><circle cx="348.5" cy="138.2" r="4.35"/><circle cx="372.5" cy="129.3" r="4.35"/><circle cx="373.5" cy="134.8" r="4.35"/><circle cx="372.5" cy="144.7" r="4.35"/><circle cx="374.5" cy="153.1" r="4.35"/><circle cx="356.4" cy="143.7" r="4.35"/><circle cx="350.7" cy="151.1" r="4.35"/><circle cx="366.0" cy="149.6" r="4.35"/><circle cx="357.6" cy="151.6" r="4.35"/><circle cx="361.6" cy="154.6" r="4.35"/><circle cx="350.7" cy="161.5" r="4.35"/><circle cx="356.6" cy="160.6" r="4.35"/><circle cx="361.6" cy="166.5" r="4.35"/><circle cx="350.7" cy="168.5" r="4.35"/><circle cx="321.4" cy="164.0" r="4.35"/><circle cx="337.3" cy="162.0" r="4.35"/><circle cx="329.0" cy="171.0" r="4.35"/><circle cx="337.5" cy="171.0" r="4.35"/><circle cx="378.5" cy="163.0" r="4.35"/><circle cx="377.5" cy="169.5" r="4.35"/><circle cx="355.6" cy="171.5" r="4.35"/><circle cx="332.7" cy="171.7" r="4.35"/><circle cx="329.8" cy="174.6" r="4.35"/><circle cx="355.6" cy="154.8" r="4.35"/><circle cx="362.0" cy="159.8" r="4.35"/><circle cx="362.5" cy="166.7" r="4.35"/><circle cx="351.6" cy="162.7" r="4.35"/><circle cx="353.1" cy="192.0" r="4.35"/><circle cx="352.0" cy="187.5" r="4.35"/><circle cx="283.5" cy="180.4" r="4.35"/><circle cx="275.4" cy="185.4" r="4.35"/><circle cx="287.5" cy="198.3" r="4.35"/><circle cx="306.3" cy="175.5" r="4.35"/><circle cx="307.1" cy="192.3" r="4.35"/><circle cx="333.3" cy="176.0" r="4.35"/><circle cx="332.6" cy="191.8" r="4.35"/><circle cx="332.6" cy="195.8" r="4.35"/><circle cx="319.4" cy="203.7" r="4.35"/><circle cx="312.0" cy="210.2" r="4.35"/><circle cx="320.4" cy="212.7" r="4.35"/><circle cx="314.0" cy="223.1" r="4.35"/><circle cx="312.5" cy="233.0" r="4.35"/><circle cx="335.6" cy="216.1" r="4.35"/><circle cx="330.3" cy="222.6" r="4.35"/><circle cx="348.7" cy="231.5" r="4.35"/><circle cx="351.7" cy="174.0" r="4.35"/><circle cx="357.6" cy="174.0" r="4.35"/><circle cx="362.6" cy="178.9" r="4.35"/><circle cx="354.6" cy="179.9" r="4.35"/><circle cx="359.6" cy="182.9" r="4.35"/><circle cx="356.6" cy="186.9" r="4.35"/><circle cx="360.6" cy="188.9" r="4.35"/><circle cx="357.6" cy="191.8" r="4.35"/><circle cx="359.6" cy="195.8" r="4.35"/><circle cx="357.6" cy="198.8" r="4.35"/><circle cx="359.6" cy="201.8" r="4.35"/><circle cx="353.2" cy="208.2" r="4.35"/><circle cx="358.6" cy="212.7" r="4.35"/><circle cx="359.6" cy="216.6" r="4.35"/><circle cx="359.1" cy="220.6" r="4.35"/><circle cx="357.6" cy="225.6" r="4.35"/><circle cx="359.6" cy="229.5" r="4.35"/><circle cx="358.6" cy="233.5" r="4.35"/><circle cx="355.6" cy="237.5" r="4.35"/><circle cx="377.5" cy="174.0" r="4.35"/><circle cx="380.4" cy="175.0" r="4.35"/><circle cx="375.5" cy="178.0" r="4.35"/><circle cx="377.0" cy="181.9" r="4.35"/><circle cx="379.4" cy="190.8" r="4.35"/><circle cx="380.4" cy="193.3" r="4.35"/><circle cx="379.4" cy="198.8" r="4.35"/><circle cx="380.0" cy="204.7" r="4.35"/><circle cx="380.4" cy="208.7" r="4.35"/><circle cx="380.0" cy="212.7" r="4.35"/><circle cx="379.4" cy="217.6" r="4.35"/><circle cx="379.4" cy="222.6" r="4.35"/><circle cx="378.5" cy="227.6" r="4.35"/><circle cx="375.5" cy="232.5" r="4.35"/><circle cx="381.4" cy="232.5" r="4.35"/><circle cx="379.4" cy="236.5" r="4.35"/><circle cx="284.5" cy="251.4" r="4.35"/><circle cx="300.4" cy="250.4" r="4.35"/><circle cx="306.3" cy="253.4" r="4.35"/><circle cx="313.0" cy="245.0" r="4.35"/><circle cx="314.5" cy="248.9" r="4.35"/><circle cx="312.5" cy="252.4" r="4.35"/><circle cx="315.5" cy="271.2" r="4.35"/><circle cx="313.0" cy="276.2" r="4.35"/><circle cx="313.5" cy="300.0" r="4.35"/><circle cx="340.3" cy="255.4" r="4.35"/><circle cx="338.8" cy="259.8" r="4.35"/><circle cx="343.2" cy="261.3" r="4.35"/><circle cx="334.8" cy="274.7" r="4.35"/><circle cx="341.3" cy="278.2" r="4.35"/><circle cx="334.3" cy="285.1" r="4.35"/><circle cx="344.2" cy="290.1" r="4.35"/><circle cx="343.7" cy="294.6" r="4.35"/><circle cx="334.8" cy="299.5" r="4.35"/><circle cx="343.7" cy="299.5" r="4.35"/><circle cx="351.7" cy="241.0" r="4.35"/><circle cx="356.6" cy="240.0" r="4.35"/><circle cx="353.7" cy="244.0" r="4.35"/><circle cx="356.1" cy="251.4" r="4.35"/><circle cx="352.2" cy="257.8" r="4.35"/><circle cx="351.7" cy="262.3" r="4.35"/><circle cx="355.6" cy="270.7" r="4.35"/><circle cx="357.6" cy="278.7" r="4.35"/><circle cx="353.7" cy="282.2" r="4.35"/><circle cx="357.6" cy="280.7" r="4.35"/><circle cx="368.5" cy="281.2" r="4.35"/><circle cx="368.5" cy="288.1" r="4.35"/><circle cx="372.0" cy="271.2" r="4.35"/><circle cx="360.1" cy="295.0" r="4.35"/><circle cx="367.5" cy="297.5" r="4.35"/><circle cx="359.6" cy="303.5" r="4.35"/><circle cx="381.4" cy="240.0" r="4.35"/><circle cx="382.4" cy="244.0" r="4.35"/><circle cx="381.9" cy="248.9" r="4.35"/><circle cx="382.4" cy="253.9" r="4.35"/><circle cx="381.9" cy="257.8" r="4.35"/><circle cx="378.5" cy="265.8" r="4.35"/><circle cx="382.4" cy="264.8" r="4.35"/><circle cx="381.9" cy="269.8" r="4.35"/><circle cx="377.5" cy="277.7" r="4.35"/><circle cx="382.4" cy="275.7" r="4.35"/><circle cx="381.4" cy="280.7" r="4.35"/><circle cx="378.5" cy="286.6" r="4.35"/><circle cx="382.4" cy="285.6" r="4.35"/><circle cx="381.4" cy="290.6" r="4.35"/><circle cx="378.5" cy="294.6" r="4.35"/><circle cx="382.4" cy="295.5" r="4.35"/><circle cx="380.4" cy="300.5" r="4.35"/><circle cx="301.3" cy="346.2" r="4.35"/><circle cx="327.4" cy="315.4" r="4.35"/><circle cx="335.3" cy="315.1" r="4.35"/><circle cx="344.2" cy="318.9" r="4.35"/><circle cx="343.7" cy="328.3" r="4.35"/><circle cx="347.2" cy="329.3" r="4.35"/><circle cx="354.6" cy="333.3" r="4.35"/><circle cx="332.3" cy="336.3" r="4.35"/><circle cx="339.3" cy="335.3" r="4.35"/><circle cx="342.7" cy="348.2" r="4.35"/><circle cx="347.7" cy="346.2" r="4.35"/><circle cx="354.6" cy="351.1" r="4.35"/><circle cx="355.1" cy="356.1" r="4.35"/><circle cx="339.8" cy="359.6" r="4.35"/><circle cx="348.7" cy="353.6" r="4.35"/><circle cx="349.7" cy="359.6" r="4.35"/><circle cx="343.7" cy="364.5" r="4.35"/><circle cx="351.7" cy="363.5" r="4.35"/><circle cx="348.7" cy="370.5" r="4.35"/><circle cx="354.6" cy="370.5" r="4.35"/><circle cx="371.0" cy="366.0" r="4.35"/><circle cx="369.5" cy="370.5" r="4.35"/><circle cx="349.2" cy="381.4" r="4.35"/><circle cx="353.7" cy="388.4" r="4.35"/><circle cx="348.2" cy="393.3" r="4.35"/><circle cx="344.7" cy="397.3" r="4.35"/><circle cx="353.2" cy="398.3" r="4.35"/><circle cx="324.4" cy="397.3" r="4.35"/><circle cx="346.2" cy="412.2" r="4.35"/><circle cx="347.2" cy="415.7" r="4.35"/><circle cx="339.8" cy="425.6" r="4.35"/><circle cx="346.7" cy="425.6" r="4.35"/><circle cx="341.3" cy="430.0" r="4.35"/><circle cx="369.5" cy="376.0" r="4.35"/><circle cx="373.5" cy="375.5" r="4.35"/><circle cx="368.5" cy="381.0" r="4.35"/><circle cx="371.5" cy="383.9" r="4.35"/><circle cx="372.0" cy="387.9" r="4.35"/><circle cx="370.5" cy="392.3" r="4.35"/><circle cx="366.5" cy="396.3" r="4.35"/><circle cx="372.0" cy="395.8" r="4.35"/><circle cx="365.1" cy="404.3" r="4.35"/><circle cx="371.0" cy="403.8" r="4.35"/><circle cx="370.5" cy="407.7" r="4.35"/><circle cx="364.1" cy="414.2" r="4.35"/><circle cx="372.0" cy="414.7" r="4.35"/><circle cx="367.5" cy="419.6" r="4.35"/><circle cx="372.0" cy="419.6" r="4.35"/><circle cx="370.5" cy="424.6" r="4.35"/><circle cx="372.5" cy="430.5" r="4.35"/><circle cx="297.4" cy="454.4" r="4.35"/><circle cx="244.3" cy="498.3" r="4.35"/><circle cx="343.2" cy="441.5" r="4.35"/><circle cx="338.3" cy="449.9" r="4.35"/><circle cx="345.2" cy="451.9" r="4.35"/><circle cx="339.8" cy="457.9" r="4.35"/><circle cx="347.2" cy="459.8" r="4.35"/><circle cx="340.3" cy="464.8" r="4.35"/><circle cx="346.7" cy="463.8" r="4.35"/><circle cx="343.7" cy="471.7" r="4.35"/><circle cx="345.2" cy="476.7" r="4.35"/><circle cx="345.7" cy="481.7" r="4.35"/><circle cx="346.2" cy="486.6" r="4.35"/><circle cx="349.2" cy="491.6" r="4.35"/><circle cx="343.7" cy="494.6" r="4.35"/><circle cx="347.7" cy="497.5" r="4.35"/><circle cx="344.7" cy="503.5" r="4.35"/><circle cx="351.7" cy="504.5" r="4.35"/><circle cx="318.4" cy="482.2" r="4.35"/><circle cx="323.4" cy="497.0" r="4.35"/><circle cx="318.4" cy="498.5" r="4.35"/><circle cx="317.4" cy="503.5" r="4.35"/><circle cx="367.0" cy="469.8" r="4.35"/><circle cx="371.5" cy="467.8" r="4.35"/><circle cx="366.5" cy="477.7" r="4.35"/><circle cx="371.5" cy="479.7" r="4.35"/><circle cx="365.6" cy="483.7" r="4.35"/><circle cx="370.5" cy="462.8" r="4.35"/><circle cx="369.5" cy="444.0" r="4.35"/><circle cx="371.5" cy="448.9" r="4.35"/><circle cx="365.6" cy="452.9" r="4.35"/><circle cx="361.6" cy="457.9" r="4.35"/><circle cx="370.5" cy="454.9" r="4.35"/><circle cx="369.5" cy="461.8" r="4.35"/><circle cx="368.5" cy="466.8" r="4.35"/><circle cx="369.5" cy="471.7" r="4.35"/><circle cx="368.0" cy="476.7" r="4.35"/><circle cx="367.5" cy="481.7" r="4.35"/><circle cx="369.5" cy="484.6" r="4.35"/><circle cx="369.5" cy="489.6" r="4.35"/><circle cx="372.5" cy="493.6" r="4.35"/><circle cx="373.5" cy="498.5" r="4.35"/><circle cx="374.5" cy="503.5" r="4.35"/><circle cx="283.5" cy="520.4" r="4.35"/><circle cx="289.4" cy="524.4" r="4.35"/><circle cx="346.0" cy="507.0" r="4.35"/><circle cx="349.2" cy="513.0" r="4.35"/><circle cx="339.8" cy="514.9" r="4.35"/><circle cx="333.8" cy="519.9" r="4.35"/><circle cx="340.8" cy="520.9" r="4.35"/><circle cx="334.8" cy="525.8" r="4.35"/><circle cx="339.8" cy="526.8" r="4.35"/><circle cx="335.8" cy="532.8" r="4.35"/><circle cx="339.8" cy="536.8" r="4.35"/><circle cx="338.3" cy="542.7" r="4.35"/><circle cx="336.3" cy="546.7" r="4.35"/><circle cx="348.7" cy="529.8" r="4.35"/><circle cx="349.2" cy="533.8" r="4.35"/><circle cx="316.4" cy="539.2" r="4.35"/><circle cx="331.3" cy="569.5" r="4.35"/><circle cx="361.6" cy="525.4" r="4.35"/><circle cx="374.5" cy="508.5" r="4.35"/><circle cx="368.5" cy="514.9" r="4.35"/><circle cx="374.5" cy="514.9" r="4.35"/><circle cx="369.5" cy="519.9" r="4.35"/><circle cx="374.5" cy="518.4" r="4.35"/><circle cx="373.5" cy="525.8" r="4.35"/><circle cx="369.5" cy="534.8" r="4.35"/><circle cx="371.5" cy="537.8" r="4.35"/><circle cx="367.0" cy="543.7" r="4.35"/>
</g>
<rect x="150.00" y="109.00" width="346.90" height="462.90" fill="none" stroke="#000" stroke-width="1.6"/>
<path d="M191.00 571.90v6.9M263.50 571.90v6.9M336.00 571.90v6.9M408.50 571.90v6.9M481.00 571.90v6.9M150.00 571.90h-6.9M150.00 514.00h-6.9M150.00 457.00h-6.9M150.00 398.90h-6.9M150.00 341.00h-6.9M150.00 283.00h-6.9M150.00 225.00h-6.9M150.00 167.00h-6.9M150.00 109.00h-6.9" stroke="#000" stroke-width="1.6" fill="none"/>
<text x="191.00" y="603.8" font-size="22.2" text-anchor="middle">37.5</text>
<text x="263.50" y="603.8" font-size="22.2" text-anchor="middle">40.0</text>
<text x="336.00" y="603.8" font-size="22.2" text-anchor="middle">42.5</text>
<text x="408.50" y="603.8" font-size="22.2" text-anchor="middle">45.0</text>
<text x="481.00" y="603.8" font-size="22.2" text-anchor="middle">47.5</text>
<text x="135.60" y="580.40" font-size="22.2" text-anchor="end">-8</text>
<text x="135.60" y="522.50" font-size="22.2" text-anchor="end">-6</text>
<text x="135.60" y="465.50" font-size="22.2" text-anchor="end">-4</text>
<text x="135.60" y="407.40" font-size="22.2" text-anchor="end">-2</text>
<text x="135.60" y="349.50" font-size="22.2" text-anchor="end">0</text>
<text x="135.60" y="291.50" font-size="22.2" text-anchor="end">2</text>
<text x="135.60" y="233.50" font-size="22.2" text-anchor="end">4</text>
<text x="135.60" y="175.50" font-size="22.2" text-anchor="end">6</text>
<text x="135.60" y="117.50" font-size="22.2" text-anchor="end">8</text>
<text x="324.45" y="635.7" font-size="27" text-anchor="middle">x [<tspan font-style="italic">μ</tspan>m]</text>
<text transform="translate(99.70 342.30) rotate(-90)" font-size="27" text-anchor="middle">y [<tspan font-style="italic">μ</tspan>m]</text>
<rect x="709.3" y="111.2" width="344.3" height="458.5" fill="rgb(253,253,255)"/>
<svg x="709.3" y="111.2" width="344.3" height="458.5" viewBox="709.3 111.2 344.3 458.5" overflow="hidden"><g mask="url(#mEy)">
<g shape-rendering="crispEdges"><rect x="20.51" y="110" width="346.9" height="2" fill="url(#gEy)" transform="translate(687.39)"/><rect x="20.14" y="112" width="346.9" height="2" fill="url(#gEy)" transform="translate(687.76)"/><rect x="19.78" y="114" width="346.9" height="2" fill="url(#gEy)" transform="translate(688.12)"/><rect x="19.42" y="116" width="346.9" height="2" fill="url(#gEy)" transform="translate(688.48)"/><rect x="19.07" y="118" width="346.9" height="2" fill="url(#gEy)" transform="translate(688.83)"/><rect x="18.71" y="120" width="346.9" height="2" fill="url(#gEy)" transform="translate(689.19)"/><rect x="18.36" y="122" width="346.9" height="2" fill="url(#gEy)" transform="translate(689.54)"/><rect x="18.02" y="124" width="346.9" height="2" fill="url(#gEy)" transform="translate(689.88)"/><rect x="17.67" y="126" width="346.9" height="2" fill="url(#gEy)" transform="translate(690.23)"/><rect x="17.33" y="128" width="346.9" height="2" fill="url(#gEy)" transform="translate(690.57)"/><rect x="17.00" y="130" width="346.9" height="2" fill="url(#gEy)" transform="translate(690.90)"/><rect x="16.66" y="132" width="346.9" height="2" fill="url(#gEy)" transform="translate(691.24)"/><rect x="16.33" y="134" width="346.9" height="2" fill="url(#gEy)" transform="translate(691.57)"/><rect x="16.01" y="136" width="346.9" height="2" fill="url(#gEy)" transform="translate(691.89)"/><rect x="15.68" y="138" width="346.9" height="2" fill="url(#gEy)" transform="translate(692.22)"/><rect x="15.36" y="140" width="346.9" height="2" fill="url(#gEy)" transform="translate(692.54)"/><rect x="15.04" y="142" width="346.9" height="2" fill="url(#gEy)" transform="translate(692.86)"/><rect x="14.73" y="144" width="346.9" height="2" fill="url(#gEy)" transform="translate(693.17)"/><rect x="14.42" y="146" width="346.9" height="2" fill="url(#gEy)" transform="translate(693.48)"/><rect x="14.11" y="148" width="346.9" height="2" fill="url(#gEy)" transform="translate(693.79)"/><rect x="13.81" y="150" width="346.9" height="2" fill="url(#gEy)" transform="translate(694.09)"/><rect x="13.51" y="152" width="346.9" height="2" fill="url(#gEy)" transform="translate(694.39)"/><rect x="13.21" y="154" width="346.9" height="2" fill="url(#gEy)" transform="translate(694.69)"/><rect x="12.91" y="156" width="346.9" height="2" fill="url(#gEy)" transform="translate(694.99)"/><rect x="12.62" y="158" width="346.9" height="2" fill="url(#gEy)" transform="translate(695.28)"/><rect x="12.33" y="160" width="346.9" height="2" fill="url(#gEy)" transform="translate(695.57)"/><rect x="12.05" y="162" width="346.9" height="2" fill="url(#gEy)" transform="translate(695.85)"/><rect x="11.76" y="164" width="346.9" height="2" fill="url(#gEy)" transform="translate(696.14)"/><rect x="11.48" y="166" width="346.9" height="2" fill="url(#gEy)" transform="translate(696.42)"/><rect x="11.21" y="168" width="346.9" height="2" fill="url(#gEy)" transform="translate(696.69)"/><rect x="10.94" y="170" width="346.9" height="2" fill="url(#gEy)" transform="translate(696.96)"/><rect x="10.67" y="172" width="346.9" height="2" fill="url(#gEy)" transform="translate(697.23)"/><rect x="10.40" y="174" width="346.9" height="2" fill="url(#gEy)" transform="translate(697.50)"/><rect x="10.14" y="176" width="346.9" height="2" fill="url(#gEy)" transform="translate(697.76)"/><rect x="9.88" y="178" width="346.9" height="2" fill="url(#gEy)" transform="translate(698.02)"/><rect x="9.62" y="180" width="346.9" height="2" fill="url(#gEy)" transform="translate(698.28)"/><rect x="9.37" y="182" width="346.9" height="2" fill="url(#gEy)" transform="translate(698.53)"/><rect x="9.12" y="184" width="346.9" height="2" fill="url(#gEy)" transform="translate(698.78)"/><rect x="8.87" y="186" width="346.9" height="2" fill="url(#gEy)" transform="translate(699.03)"/><rect x="8.62" y="188" width="346.9" height="2" fill="url(#gEy)" transform="translate(699.28)"/><rect x="8.38" y="190" width="346.9" height="2" fill="url(#gEy)" transform="translate(699.52)"/><rect x="8.15" y="192" width="346.9" height="2" fill="url(#gEy)" transform="translate(699.75)"/><rect x="7.91" y="194" width="346.9" height="2" fill="url(#gEy)" transform="translate(699.99)"/><rect x="7.68" y="196" width="346.9" height="2" fill="url(#gEy)" transform="translate(700.22)"/><rect x="7.45" y="198" width="346.9" height="2" fill="url(#gEy)" transform="translate(700.45)"/><rect x="7.23" y="200" width="346.9" height="2" fill="url(#gEy)" transform="translate(700.67)"/><rect x="7.01" y="202" width="346.9" height="2" fill="url(#gEy)" transform="translate(700.89)"/><rect x="6.79" y="204" width="346.9" height="2" fill="url(#gEy)" transform="translate(701.11)"/><rect x="6.57" y="206" width="346.9" height="2" fill="url(#gEy)" transform="translate(701.33)"/><rect x="6.36" y="208" width="346.9" height="2" fill="url(#gEy)" transform="translate(701.54)"/><rect x="6.15" y="210" width="346.9" height="2" fill="url(#gEy)" transform="translate(701.75)"/><rect x="5.95" y="212" width="346.9" height="2" fill="url(#gEy)" transform="translate(701.95)"/><rect x="5.75" y="214" width="346.9" height="2" fill="url(#gEy)" transform="translate(702.15)"/><rect x="5.55" y="216" width="346.9" height="2" fill="url(#gEy)" transform="translate(702.35)"/><rect x="5.35" y="218" width="346.9" height="2" fill="url(#gEy)" transform="translate(702.55)"/><rect x="5.16" y="220" width="346.9" height="2" fill="url(#gEy)" transform="translate(702.74)"/><rect x="4.97" y="222" width="346.9" height="2" fill="url(#gEy)" transform="translate(702.93)"/><rect x="4.78" y="224" width="346.9" height="2" fill="url(#gEy)" transform="translate(703.12)"/><rect x="4.60" y="226" width="346.9" height="2" fill="url(#gEy)" transform="translate(703.30)"/><rect x="4.42" y="228" width="346.9" height="2" fill="url(#gEy)" transform="translate(703.48)"/><rect x="4.24" y="230" width="346.9" height="2" fill="url(#gEy)" transform="translate(703.66)"/><rect x="4.07" y="232" width="346.9" height="2" fill="url(#gEy)" transform="translate(703.83)"/><rect x="3.90" y="234" width="346.9" height="2" fill="url(#gEy)" transform="translate(704.00)"/><rect x="3.73" y="236" width="346.9" height="2" fill="url(#gEy)" transform="translate(704.17)"/><rect x="3.57" y="238" width="346.9" height="2" fill="url(#gEy)" transform="translate(704.33)"/><rect x="15.06" y="240" width="346.9" height="2" fill="url(#gEy)" transform="translate(692.84)"/><rect x="14.90" y="242" width="346.9" height="2" fill="url(#gEy)" transform="translate(693.00)"/><rect x="14.74" y="244" width="346.9" height="2" fill="url(#gEy)" transform="translate(693.16)"/><rect x="14.59" y="246" width="346.9" height="2" fill="url(#gEy)" transform="translate(693.31)"/><rect x="14.45" y="248" width="346.9" height="2" fill="url(#gEy)" transform="translate(693.45)"/><rect x="14.30" y="250" width="346.9" height="2" fill="url(#gEy)" transform="translate(693.60)"/><rect x="14.16" y="252" width="346.9" height="2" fill="url(#gEy)" transform="translate(693.74)"/><rect x="14.02" y="254" width="346.9" height="2" fill="url(#gEy)" transform="translate(693.88)"/><rect x="13.89" y="256" width="346.9" height="2" fill="url(#gEy)" transform="translate(694.01)"/><rect x="13.75" y="258" width="346.9" height="2" fill="url(#gEy)" transform="translate(694.15)"/><rect x="13.62" y="260" width="346.9" height="2" fill="url(#gEy)" transform="translate(694.28)"/><rect x="13.50" y="262" width="346.9" height="2" fill="url(#gEy)" transform="translate(694.40)"/><rect x="13.38" y="264" width="346.9" height="2" fill="url(#gEy)" transform="translate(694.52)"/><rect x="13.26" y="266" width="346.9" height="2" fill="url(#gEy)" transform="translate(694.64)"/><rect x="13.14" y="268" width="346.9" height="2" fill="url(#gEy)" transform="translate(694.76)"/><rect x="13.03" y="270" width="346.9" height="2" fill="url(#gEy)" transform="translate(694.87)"/><rect x="12.92" y="272" width="346.9" height="2" fill="url(#gEy)" transform="translate(694.98)"/><rect x="12.81" y="274" width="346.9" height="2" fill="url(#gEy)" transform="translate(695.09)"/><rect x="12.71" y="276" width="346.9" height="2" fill="url(#gEy)" transform="translate(695.19)"/><rect x="12.61" y="278" width="346.9" height="2" fill="url(#gEy)" transform="translate(695.29)"/><rect x="12.51" y="280" width="346.9" height="2" fill="url(#gEy)" transform="translate(695.39)"/><rect x="12.42" y="282" width="346.9" height="2" fill="url(#gEy)" transform="translate(695.48)"/><rect x="12.33" y="284" width="346.9" height="2" fill="url(#gEy)" transform="translate(695.57)"/><rect x="12.24" y="286" width="346.9" height="2" fill="url(#gEy)" transform="translate(695.66)"/><rect x="12.16" y="288" width="346.9" height="2" fill="url(#gEy)" transform="translate(695.74)"/><rect x="12.08" y="290" width="346.9" height="2" fill="url(#gEy)" transform="translate(695.82)"/><rect x="12.00" y="292" width="346.9" height="2" fill="url(#gEy)" transform="translate(695.90)"/><rect x="11.93" y="294" width="346.9" height="2" fill="url(#gEy)" transform="translate(695.97)"/><rect x="11.86" y="296" width="346.9" height="2" fill="url(#gEy)" transform="translate(696.04)"/><rect x="11.79" y="298" width="346.9" height="2" fill="url(#gEy)" transform="translate(696.11)"/><rect x="11.72" y="300" width="346.9" height="2" fill="url(#gEy)" transform="translate(696.18)"/><rect x="11.66" y="302" width="346.9" height="2" fill="url(#gEy)" transform="translate(696.24)"/><rect x="11.60" y="304" width="346.9" height="2" fill="url(#gEy)" transform="translate(696.30)"/><rect x="11.55" y="306" width="346.9" height="2" fill="url(#gEy)" transform="translate(696.35)"/><rect x="11.50" y="308" width="346.9" height="2" fill="url(#gEy)" transform="translate(696.40)"/><rect x="11.45" y="310" width="346.9" height="2" fill="url(#gEy)" transform="translate(696.45)"/><rect x="11.40" y="312" width="346.9" height="2" fill="url(#gEy)" transform="translate(696.50)"/><rect x="11.36" y="314" width="346.9" height="2" fill="url(#gEy)" transform="translate(696.54)"/><rect x="11.32" y="316" width="346.9" height="2" fill="url(#gEy)" transform="translate(696.58)"/><rect x="11.28" y="318" width="346.9" height="2" fill="url(#gEy)" transform="translate(696.62)"/><rect x="11.25" y="320" width="346.9" height="2" fill="url(#gEy)" transform="translate(696.65)"/><rect x="11.22" y="322" width="346.9" height="2" fill="url(#gEy)" transform="translate(696.68)"/><rect x="11.20" y="324" width="346.9" height="2" fill="url(#gEy)" transform="translate(696.70)"/><rect x="11.17" y="326" width="346.9" height="2" fill="url(#gEy)" transform="translate(696.73)"/><rect x="11.15" y="328" width="346.9" height="2" fill="url(#gEy)" transform="translate(696.75)"/><rect x="11.14" y="330" width="346.9" height="2" fill="url(#gEy)" transform="translate(696.76)"/><rect x="11.12" y="332" width="346.9" height="2" fill="url(#gEy)" transform="translate(696.78)"/><rect x="11.11" y="334" width="346.9" height="2" fill="url(#gEy)" transform="translate(696.79)"/><rect x="11.10" y="336" width="346.9" height="2" fill="url(#gEy)" transform="translate(696.80)"/><rect x="11.10" y="338" width="346.9" height="2" fill="url(#gEy)" transform="translate(696.80)"/><rect x="11.10" y="340" width="346.9" height="2" fill="url(#gEy)" transform="translate(696.80)"/><rect x="11.10" y="342" width="346.9" height="2" fill="url(#gEy)" transform="translate(696.80)"/><rect x="11.11" y="344" width="346.9" height="2" fill="url(#gEy)" transform="translate(696.79)"/><rect x="11.12" y="346" width="346.9" height="2" fill="url(#gEy)" transform="translate(696.78)"/><rect x="11.13" y="348" width="346.9" height="2" fill="url(#gEy)" transform="translate(696.77)"/><rect x="11.14" y="350" width="346.9" height="2" fill="url(#gEy)" transform="translate(696.76)"/><rect x="11.16" y="352" width="346.9" height="2" fill="url(#gEy)" transform="translate(696.74)"/><rect x="11.18" y="354" width="346.9" height="2" fill="url(#gEy)" transform="translate(696.72)"/><rect x="11.21" y="356" width="346.9" height="2" fill="url(#gEy)" transform="translate(696.69)"/><rect x="11.24" y="358" width="346.9" height="2" fill="url(#gEy)" transform="translate(696.66)"/><rect x="11.27" y="360" width="346.9" height="2" fill="url(#gEy)" transform="translate(696.63)"/><rect x="11.30" y="362" width="346.9" height="2" fill="url(#gEy)" transform="translate(696.60)"/><rect x="11.34" y="364" width="346.9" height="2" fill="url(#gEy)" transform="translate(696.56)"/><rect x="11.38" y="366" width="346.9" height="2" fill="url(#gEy)" transform="translate(696.52)"/><rect x="11.43" y="368" width="346.9" height="2" fill="url(#gEy)" transform="translate(696.47)"/><rect x="11.47" y="370" width="346.9" height="2" fill="url(#gEy)" transform="translate(696.43)"/><rect x="11.52" y="372" width="346.9" height="2" fill="url(#gEy)" transform="translate(696.38)"/><rect x="11.58" y="374" width="346.9" height="2" fill="url(#gEy)" transform="translate(696.32)"/><rect x="11.63" y="376" width="346.9" height="2" fill="url(#gEy)" transform="translate(696.27)"/><rect x="11.69" y="378" width="346.9" height="2" fill="url(#gEy)" transform="translate(696.21)"/><rect x="11.76" y="380" width="346.9" height="2" fill="url(#gEy)" transform="translate(696.14)"/><rect x="11.82" y="382" width="346.9" height="2" fill="url(#gEy)" transform="translate(696.08)"/><rect x="11.89" y="384" width="346.9" height="2" fill="url(#gEy)" transform="translate(696.01)"/><rect x="11.97" y="386" width="346.9" height="2" fill="url(#gEy)" transform="translate(695.93)"/><rect x="12.04" y="388" width="346.9" height="2" fill="url(#gEy)" transform="translate(695.86)"/><rect x="12.12" y="390" width="346.9" height="2" fill="url(#gEy)" transform="translate(695.78)"/><rect x="12.20" y="392" width="346.9" height="2" fill="url(#gEy)" transform="translate(695.70)"/><rect x="12.29" y="394" width="346.9" height="2" fill="url(#gEy)" transform="translate(695.61)"/><rect x="12.38" y="396" width="346.9" height="2" fill="url(#gEy)" transform="translate(695.52)"/><rect x="12.47" y="398" width="346.9" height="2" fill="url(#gEy)" transform="translate(695.43)"/><rect x="12.57" y="400" width="346.9" height="2" fill="url(#gEy)" transform="translate(695.33)"/><rect x="12.67" y="402" width="346.9" height="2" fill="url(#gEy)" transform="translate(695.23)"/><rect x="12.77" y="404" width="346.9" height="2" fill="url(#gEy)" transform="translate(695.13)"/><rect x="12.87" y="406" width="346.9" height="2" fill="url(#gEy)" transform="translate(695.03)"/><rect x="12.98" y="408" width="346.9" height="2" fill="url(#gEy)" transform="translate(694.92)"/><rect x="13.09" y="410" width="346.9" height="2" fill="url(#gEy)" transform="translate(694.81)"/><rect x="13.21" y="412" width="346.9" height="2" fill="url(#gEy)" transform="translate(694.69)"/><rect x="13.32" y="414" width="346.9" height="2" fill="url(#gEy)" transform="translate(694.58)"/><rect x="13.44" y="416" width="346.9" height="2" fill="url(#gEy)" transform="translate(694.46)"/><rect x="13.57" y="418" width="346.9" height="2" fill="url(#gEy)" transform="translate(694.33)"/><rect x="13.70" y="420" width="346.9" height="2" fill="url(#gEy)" transform="translate(694.20)"/><rect x="13.83" y="422" width="346.9" height="2" fill="url(#gEy)" transform="translate(694.07)"/><rect x="13.96" y="424" width="346.9" height="2" fill="url(#gEy)" transform="translate(693.94)"/><rect x="14.10" y="426" width="346.9" height="2" fill="url(#gEy)" transform="translate(693.80)"/><rect x="14.24" y="428" width="346.9" height="2" fill="url(#gEy)" transform="translate(693.66)"/><rect x="14.38" y="430" width="346.9" height="2" fill="url(#gEy)" transform="translate(693.52)"/><rect x="2.88" y="432" width="346.9" height="2" fill="url(#gEy)" transform="translate(705.02)"/><rect x="3.03" y="434" width="346.9" height="2" fill="url(#gEy)" transform="translate(704.87)"/><rect x="3.18" y="436" width="346.9" height="2" fill="url(#gEy)" transform="translate(704.72)"/><rect x="3.33" y="438" width="346.9" height="2" fill="url(#gEy)" transform="translate(704.57)"/><rect x="3.49" y="440" width="346.9" height="2" fill="url(#gEy)" transform="translate(704.41)"/><rect x="3.66" y="442" width="346.9" height="2" fill="url(#gEy)" transform="translate(704.24)"/><rect x="3.82" y="444" width="346.9" height="2" fill="url(#gEy)" transform="translate(704.08)"/><rect x="3.99" y="446" width="346.9" height="2" fill="url(#gEy)" transform="translate(703.91)"/><rect x="4.16" y="448" width="346.9" height="2" fill="url(#gEy)" transform="translate(703.74)"/><rect x="4.34" y="450" width="346.9" height="2" fill="url(#gEy)" transform="translate(703.56)"/><rect x="4.52" y="452" width="346.9" height="2" fill="url(#gEy)" transform="translate(703.38)"/><rect x="4.70" y="454" width="346.9" height="2" fill="url(#gEy)" transform="translate(703.20)"/><rect x="4.88" y="456" width="346.9" height="2" fill="url(#gEy)" transform="translate(703.02)"/><rect x="5.07" y="458" width="346.9" height="2" fill="url(#gEy)" transform="translate(702.83)"/><rect x="5.26" y="460" width="346.9" height="2" fill="url(#gEy)" transform="translate(702.64)"/><rect x="5.46" y="462" width="346.9" height="2" fill="url(#gEy)" transform="translate(702.44)"/><rect x="5.66" y="464" width="346.9" height="2" fill="url(#gEy)" transform="translate(702.24)"/><rect x="5.86" y="466" width="346.9" height="2" fill="url(#gEy)" transform="translate(702.04)"/><rect x="6.06" y="468" width="346.9" height="2" fill="url(#gEy)" transform="translate(701.84)"/><rect x="6.27" y="470" width="346.9" height="2" fill="url(#gEy)" transform="translate(701.63)"/><rect x="6.48" y="472" width="346.9" height="2" fill="url(#gEy)" transform="translate(701.42)"/><rect x="6.69" y="474" width="346.9" height="2" fill="url(#gEy)" transform="translate(701.21)"/><rect x="6.91" y="476" width="346.9" height="2" fill="url(#gEy)" transform="translate(700.99)"/><rect x="7.13" y="478" width="346.9" height="2" fill="url(#gEy)" transform="translate(700.77)"/><rect x="7.35" y="480" width="346.9" height="2" fill="url(#gEy)" transform="translate(700.55)"/><rect x="7.58" y="482" width="346.9" height="2" fill="url(#gEy)" transform="translate(700.32)"/><rect x="7.81" y="484" width="346.9" height="2" fill="url(#gEy)" transform="translate(700.09)"/><rect x="8.04" y="486" width="346.9" height="2" fill="url(#gEy)" transform="translate(699.86)"/><rect x="8.28" y="488" width="346.9" height="2" fill="url(#gEy)" transform="translate(699.62)"/><rect x="8.52" y="490" width="346.9" height="2" fill="url(#gEy)" transform="translate(699.38)"/><rect x="8.76" y="492" width="346.9" height="2" fill="url(#gEy)" transform="translate(699.14)"/><rect x="9.00" y="494" width="346.9" height="2" fill="url(#gEy)" transform="translate(698.90)"/><rect x="9.25" y="496" width="346.9" height="2" fill="url(#gEy)" transform="translate(698.65)"/><rect x="9.51" y="498" width="346.9" height="2" fill="url(#gEy)" transform="translate(698.39)"/><rect x="9.76" y="500" width="346.9" height="2" fill="url(#gEy)" transform="translate(698.14)"/><rect x="10.02" y="502" width="346.9" height="2" fill="url(#gEy)" transform="translate(697.88)"/><rect x="10.28" y="504" width="346.9" height="2" fill="url(#gEy)" transform="translate(697.62)"/><rect x="10.55" y="506" width="346.9" height="2" fill="url(#gEy)" transform="translate(697.35)"/><rect x="10.81" y="508" width="346.9" height="2" fill="url(#gEy)" transform="translate(697.09)"/><rect x="11.08" y="510" width="346.9" height="2" fill="url(#gEy)" transform="translate(696.82)"/><rect x="11.36" y="512" width="346.9" height="2" fill="url(#gEy)" transform="translate(696.54)"/><rect x="11.64" y="514" width="346.9" height="2" fill="url(#gEy)" transform="translate(696.26)"/><rect x="11.92" y="516" width="346.9" height="2" fill="url(#gEy)" transform="translate(695.98)"/><rect x="12.20" y="518" width="346.9" height="2" fill="url(#gEy)" transform="translate(695.70)"/><rect x="12.49" y="520" width="346.9" height="2" fill="url(#gEy)" transform="translate(695.41)"/><rect x="12.78" y="522" width="346.9" height="2" fill="url(#gEy)" transform="translate(695.12)"/><rect x="13.07" y="524" width="346.9" height="2" fill="url(#gEy)" transform="translate(694.83)"/><rect x="13.37" y="526" width="346.9" height="2" fill="url(#gEy)" transform="translate(694.53)"/><rect x="13.67" y="528" width="346.9" height="2" fill="url(#gEy)" transform="translate(694.23)"/><rect x="13.97" y="530" width="346.9" height="2" fill="url(#gEy)" transform="translate(693.93)"/><rect x="14.28" y="532" width="346.9" height="2" fill="url(#gEy)" transform="translate(693.62)"/><rect x="14.59" y="534" width="346.9" height="2" fill="url(#gEy)" transform="translate(693.31)"/><rect x="14.90" y="536" width="346.9" height="2" fill="url(#gEy)" transform="translate(693.00)"/><rect x="15.22" y="538" width="346.9" height="2" fill="url(#gEy)" transform="translate(692.68)"/><rect x="15.54" y="540" width="346.9" height="2" fill="url(#gEy)" transform="translate(692.36)"/><rect x="15.86" y="542" width="346.9" height="2" fill="url(#gEy)" transform="translate(692.04)"/><rect x="16.19" y="544" width="346.9" height="2" fill="url(#gEy)" transform="translate(691.71)"/><rect x="16.52" y="546" width="346.9" height="2" fill="url(#gEy)" transform="translate(691.38)"/><rect x="16.85" y="548" width="346.9" height="2" fill="url(#gEy)" transform="translate(691.05)"/><rect x="17.18" y="550" width="346.9" height="2" fill="url(#gEy)" transform="translate(690.72)"/><rect x="17.52" y="552" width="346.9" height="2" fill="url(#gEy)" transform="translate(690.38)"/><rect x="17.86" y="554" width="346.9" height="2" fill="url(#gEy)" transform="translate(690.04)"/><rect x="18.21" y="556" width="346.9" height="2" fill="url(#gEy)" transform="translate(689.69)"/><rect x="18.56" y="558" width="346.9" height="2" fill="url(#gEy)" transform="translate(689.34)"/><rect x="18.91" y="560" width="346.9" height="2" fill="url(#gEy)" transform="translate(688.99)"/><rect x="19.26" y="562" width="346.9" height="2" fill="url(#gEy)" transform="translate(688.64)"/><rect x="19.62" y="564" width="346.9" height="2" fill="url(#gEy)" transform="translate(688.28)"/><rect x="19.98" y="566" width="346.9" height="2" fill="url(#gEy)" transform="translate(687.92)"/><rect x="20.34" y="568" width="346.9" height="2" fill="url(#gEy)" transform="translate(687.56)"/><rect x="20.62" y="570" width="346.9" height="1" fill="url(#gEy)" transform="translate(687.28)"/></g>
</g></svg>
<g clip-path="url(#cR)" fill="#1f77b4">
<circle cx="717.4" cy="305.5" r="4.35"/><circle cx="768.4" cy="299.4" r="4.35"/><circle cx="853.3" cy="112.7" r="4.35"/><circle cx="860.4" cy="135.3" r="4.35"/><circle cx="859.4" cy="146.2" r="4.35"/><circle cx="837.2" cy="170.8" r="4.35"/><circle cx="876.3" cy="118.9" r="4.35"/><circle cx="881.8" cy="123.8" r="4.35"/><circle cx="881.3" cy="128.8" r="4.35"/><circle cx="882.8" cy="126.3" r="4.35"/><circle cx="883.3" cy="138.2" r="4.35"/><circle cx="875.3" cy="142.2" r="4.35"/><circle cx="885.3" cy="148.7" r="4.35"/><circle cx="885.6" cy="151.6" r="4.35"/><circle cx="902.1" cy="114.9" r="4.35"/><circle cx="927.2" cy="114.9" r="4.35"/><circle cx="910.4" cy="130.3" r="4.35"/><circle cx="906.4" cy="138.2" r="4.35"/><circle cx="930.4" cy="129.3" r="4.35"/><circle cx="931.4" cy="134.8" r="4.35"/><circle cx="930.4" cy="144.7" r="4.35"/><circle cx="932.4" cy="153.1" r="4.35"/><circle cx="914.3" cy="143.7" r="4.35"/><circle cx="908.6" cy="151.1" r="4.35"/><circle cx="923.9" cy="149.6" r="4.35"/><circle cx="915.5" cy="151.6" r="4.35"/><circle cx="919.5" cy="154.6" r="4.35"/><circle cx="908.6" cy="161.5" r="4.35"/><circle cx="914.5" cy="160.6" r="4.35"/><circle cx="919.5" cy="166.5" r="4.35"/><circle cx="908.6" cy="168.5" r="4.35"/><circle cx="879.3" cy="164.0" r="4.35"/><circle cx="895.2" cy="162.0" r="4.35"/><circle cx="886.9" cy="171.0" r="4.35"/><circle cx="895.4" cy="171.0" r="4.35"/><circle cx="936.4" cy="163.0" r="4.35"/><circle cx="935.4" cy="169.5" r="4.35"/><circle cx="913.5" cy="171.5" r="4.35"/><circle cx="890.6" cy="171.7" r="4.35"/><circle cx="887.7" cy="174.6" r="4.35"/><circle cx="913.5" cy="154.8" r="4.35"/><circle cx="919.9" cy="159.8" r="4.35"/><circle cx="920.4" cy="166.7" r="4.35"/><circle cx="909.5" cy="162.7" r="4.35"/><circle cx="911.0" cy="192.0" r="4.35"/><circle cx="909.9" cy="187.5" r="4.35"/><circle cx="841.4" cy="180.4" r="4.35"/><circle cx="833.3" cy="185.4" r="4.35"/><circle cx="845.4" cy="198.3" r="4.35"/><circle cx="864.2" cy="175.5" r="4.35"/><circle cx="865.0" cy="192.3" r="4.35"/><circle cx="891.2" cy="176.0" r="4.35"/><circle cx="890.5" cy="191.8" r="4.35"/><circle cx="890.5" cy="195.8" r="4.35"/><circle cx="877.3" cy="203.7" r="4.35"/><circle cx="869.9" cy="210.2" r="4.35"/><circle cx="878.3" cy="212.7" r="4.35"/><circle cx="871.9" cy="223.1" r="4.35"/><circle cx="870.4" cy="233.0" r="4.35"/><circle cx="893.5" cy="216.1" r="4.35"/><circle cx="888.2" cy="222.6" r="4.35"/><circle cx="906.6" cy="231.5" r="4.35"/><circle cx="909.6" cy="174.0" r="4.35"/><circle cx="915.5" cy="174.0" r="4.35"/><circle cx="920.5" cy="178.9" r="4.35"/><circle cx="912.5" cy="179.9" r="4.35"/><circle cx="917.5" cy="182.9" r="4.35"/><circle cx="914.5" cy="186.9" r="4.35"/><circle cx="918.5" cy="188.9" r="4.35"/><circle cx="915.5" cy="191.8" r="4.35"/><circle cx="917.5" cy="195.8" r="4.35"/><circle cx="915.5" cy="198.8" r="4.35"/><circle cx="917.5" cy="201.8" r="4.35"/><circle cx="911.1" cy="208.2" r="4.35"/><circle cx="916.5" cy="212.7" r="4.35"/><circle cx="917.5" cy="216.6" r="4.35"/><circle cx="917.0" cy="220.6" r="4.35"/><circle cx="915.5" cy="225.6" r="4.35"/><circle cx="917.5" cy="229.5" r="4.35"/><circle cx="916.5" cy="233.5" r="4.35"/><circle cx="913.5" cy="237.5" r="4.35"/><circle cx="935.4" cy="174.0" r="4.35"/><circle cx="938.3" cy="175.0" r="4.35"/><circle cx="933.4" cy="178.0" r="4.35"/><circle cx="934.9" cy="181.9" r="4.35"/><circle cx="937.3" cy="190.8" r="4.35"/><circle cx="938.3" cy="193.3" r="4.35"/><circle cx="937.3" cy="198.8" r="4.35"/><circle cx="937.9" cy="204.7" r="4.35"/><circle cx="938.3" cy="208.7" r="4.35"/><circle cx="937.9" cy="212.7" r="4.35"/><circle cx="937.3" cy="217.6" r="4.35"/><circle cx="937.3" cy="222.6" r="4.35"/><circle cx="936.4" cy="227.6" r="4.35"/><circle cx="933.4" cy="232.5" r="4.35"/><circle cx="939.3" cy="232.5" r="4.35"/><circle cx="937.3" cy="236.5" r="4.35"/><circle cx="842.4" cy="251.4" r="4.35"/><circle cx="858.3" cy="250.4" r="4.35"/><circle cx="864.2" cy="253.4" r="4.35"/><circle cx="870.9" cy="245.0" r="4.35"/><circle cx="872.4" cy="248.9" r="4.35"/><circle cx="870.4" cy="252.4" r="4.35"/><circle cx="873.4" cy="271.2" r="4.35"/><circle cx="870.9" cy="276.2" r="4.35"/><circle cx="871.4" cy="300.0" r="4.35"/><circle cx="898.2" cy="255.4" r="4.35"/><circle cx="896.7" cy="259.8" r="4.35"/><circle cx="901.1" cy="261.3" r="4.35"/><circle cx="892.7" cy="274.7" r="4.35"/><circle cx="899.2" cy="278.2" r="4.35"/><circle cx="892.2" cy="285.1" r="4.35"/><circle cx="902.1" cy="290.1" r="4.35"/><circle cx="901.6" cy="294.6" r="4.35"/><circle cx="892.7" cy="299.5" r="4.35"/><circle cx="901.6" cy="299.5" r="4.35"/><circle cx="909.6" cy="241.0" r="4.35"/><circle cx="914.5" cy="240.0" r="4.35"/><circle cx="911.6" cy="244.0" r="4.35"/><circle cx="914.0" cy="251.4" r="4.35"/><circle cx="910.1" cy="257.8" r="4.35"/><circle cx="909.6" cy="262.3" r="4.35"/><circle cx="913.5" cy="270.7" r="4.35"/><circle cx="915.5" cy="278.7" r="4.35"/><circle cx="911.6" cy="282.2" r="4.35"/><circle cx="915.5" cy="280.7" r="4.35"/><circle cx="926.4" cy="281.2" r="4.35"/><circle cx="926.4" cy="288.1" r="4.35"/><circle cx="929.9" cy="271.2" r="4.35"/><circle cx="918.0" cy="295.0" r="4.35"/><circle cx="925.4" cy="297.5" r="4.35"/><circle cx="917.5" cy="303.5" r="4.35"/><circle cx="939.3" cy="240.0" r="4.35"/><circle cx="940.3" cy="244.0" r="4.35"/><circle cx="939.8" cy="248.9" r="4.35"/><circle cx="940.3" cy="253.9" r="4.35"/><circle cx="939.8" cy="257.8" r="4.35"/><circle cx="936.4" cy="265.8" r="4.35"/><circle cx="940.3" cy="264.8" r="4.35"/><circle cx="939.8" cy="269.8" r="4.35"/><circle cx="935.4" cy="277.7" r="4.35"/><circle cx="940.3" cy="275.7" r="4.35"/><circle cx="939.3" cy="280.7" r="4.35"/><circle cx="936.4" cy="286.6" r="4.35"/><circle cx="940.3" cy="285.6" r="4.35"/><circle cx="939.3" cy="290.6" r="4.35"/><circle cx="936.4" cy="294.6" r="4.35"/><circle cx="940.3" cy="295.5" r="4.35"/><circle cx="938.3" cy="300.5" r="4.35"/><circle cx="859.2" cy="346.2" r="4.35"/><circle cx="885.3" cy="315.4" r="4.35"/><circle cx="893.2" cy="315.1" r="4.35"/><circle cx="902.1" cy="318.9" r="4.35"/><circle cx="901.6" cy="328.3" r="4.35"/><circle cx="905.1" cy="329.3" r="4.35"/><circle cx="912.5" cy="333.3" r="4.35"/><circle cx="890.2" cy="336.3" r="4.35"/><circle cx="897.2" cy="335.3" r="4.35"/><circle cx="900.6" cy="348.2" r="4.35"/><circle cx="905.6" cy="346.2" r="4.35"/><circle cx="912.5" cy="351.1" r="4.35"/><circle cx="913.0" cy="356.1" r="4.35"/><circle cx="897.7" cy="359.6" r="4.35"/><circle cx="906.6" cy="353.6" r="4.35"/><circle cx="907.6" cy="359.6" r="4.35"/><circle cx="901.6" cy="364.5" r="4.35"/><circle cx="909.6" cy="363.5" r="4.35"/><circle cx="906.6" cy="370.5" r="4.35"/><circle cx="912.5" cy="370.5" r="4.35"/><circle cx="928.9" cy="366.0" r="4.35"/><circle cx="927.4" cy="370.5" r="4.35"/><circle cx="907.1" cy="381.4" r="4.35"/><circle cx="911.6" cy="388.4" r="4.35"/><circle cx="906.1" cy="393.3" r="4.35"/><circle cx="902.6" cy="397.3" r="4.35"/><circle cx="911.1" cy="398.3" r="4.35"/><circle cx="882.3" cy="397.3" r="4.35"/><circle cx="904.1" cy="412.2" r="4.35"/><circle cx="905.1" cy="415.7" r="4.35"/><circle cx="897.7" cy="425.6" r="4.35"/><circle cx="904.6" cy="425.6" r="4.35"/><circle cx="899.2" cy="430.0" r="4.35"/><circle cx="927.4" cy="376.0" r="4.35"/><circle cx="931.4" cy="375.5" r="4.35"/><circle cx="926.4" cy="381.0" r="4.35"/><circle cx="929.4" cy="383.9" r="4.35"/><circle cx="929.9" cy="387.9" r="4.35"/><circle cx="928.4" cy="392.3" r="4.35"/><circle cx="924.4" cy="396.3" r="4.35"/><circle cx="929.9" cy="395.8" r="4.35"/><circle cx="923.0" cy="404.3" r="4.35"/><circle cx="928.9" cy="403.8" r="4.35"/><circle cx="928.4" cy="407.7" r="4.35"/><circle cx="922.0" cy="414.2" r="4.35"/><circle cx="929.9" cy="414.7" r="4.35"/><circle cx="925.4" cy="419.6" r="4.35"/><circle cx="929.9" cy="419.6" r="4.35"/><circle cx="928.4" cy="424.6" r="4.35"/><circle cx="930.4" cy="430.5" r="4.35"/><circle cx="855.3" cy="454.4" r="4.35"/><circle cx="802.2" cy="498.3" r="4.35"/><circle cx="901.1" cy="441.5" r="4.35"/><circle cx="896.2" cy="449.9" r="4.35"/><circle cx="903.1" cy="451.9" r="4.35"/><circle cx="897.7" cy="457.9" r="4.35"/><circle cx="905.1" cy="459.8" r="4.35"/><circle cx="898.2" cy="464.8" r="4.35"/><circle cx="904.6" cy="463.8" r="4.35"/><circle cx="901.6" cy="471.7" r="4.35"/><circle cx="903.1" cy="476.7" r="4.35"/><circle cx="903.6" cy="481.7" r="4.35"/><circle cx="904.1" cy="486.6" r="4.35"/><circle cx="907.1" cy="491.6" r="4.35"/><circle cx="901.6" cy="494.6" r="4.35"/><circle cx="905.6" cy="497.5" r="4.35"/><circle cx="902.6" cy="503.5" r="4.35"/><circle cx="909.6" cy="504.5" r="4.35"/><circle cx="876.3" cy="482.2" r="4.35"/><circle cx="881.3" cy="497.0" r="4.35"/><circle cx="876.3" cy="498.5" r="4.35"/><circle cx="875.3" cy="503.5" r="4.35"/><circle cx="924.9" cy="469.8" r="4.35"/><circle cx="929.4" cy="467.8" r="4.35"/><circle cx="924.4" cy="477.7" r="4.35"/><circle cx="929.4" cy="479.7" r="4.35"/><circle cx="923.5" cy="483.7" r="4.35"/><circle cx="928.4" cy="462.8" r="4.35"/><circle cx="927.4" cy="444.0" r="4.35"/><circle cx="929.4" cy="448.9" r="4.35"/><circle cx="923.5" cy="452.9" r="4.35"/><circle cx="919.5" cy="457.9" r="4.35"/><circle cx="928.4" cy="454.9" r="4.35"/><circle cx="927.4" cy="461.8" r="4.35"/><circle cx="926.4" cy="466.8" r="4.35"/><circle cx="927.4" cy="471.7" r="4.35"/><circle cx="925.9" cy="476.7" r="4.35"/><circle cx="925.4" cy="481.7" r="4.35"/><circle cx="927.4" cy="484.6" r="4.35"/><circle cx="927.4" cy="489.6" r="4.35"/><circle cx="930.4" cy="493.6" r="4.35"/><circle cx="931.4" cy="498.5" r="4.35"/><circle cx="932.4" cy="503.5" r="4.35"/><circle cx="841.4" cy="520.4" r="4.35"/><circle cx="847.3" cy="524.4" r="4.35"/><circle cx="903.9" cy="507.0" r="4.35"/><circle cx="907.1" cy="513.0" r="4.35"/><circle cx="897.7" cy="514.9" r="4.35"/><circle cx="891.7" cy="519.9" r="4.35"/><circle cx="898.7" cy="520.9" r="4.35"/><circle cx="892.7" cy="525.8" r="4.35"/><circle cx="897.7" cy="526.8" r="4.35"/><circle cx="893.7" cy="532.8" r="4.35"/><circle cx="897.7" cy="536.8" r="4.35"/><circle cx="896.2" cy="542.7" r="4.35"/><circle cx="894.2" cy="546.7" r="4.35"/><circle cx="906.6" cy="529.8" r="4.35"/><circle cx="907.1" cy="533.8" r="4.35"/><circle cx="874.3" cy="539.2" r="4.35"/><circle cx="889.2" cy="569.5" r="4.35"/><circle cx="919.5" cy="525.4" r="4.35"/><circle cx="932.4" cy="508.5" r="4.35"/><circle cx="926.4" cy="514.9" r="4.35"/><circle cx="932.4" cy="514.9" r="4.35"/><circle cx="927.4" cy="519.9" r="4.35"/><circle cx="932.4" cy="518.4" r="4.35"/><circle cx="931.4" cy="525.8" r="4.35"/><circle cx="927.4" cy="534.8" r="4.35"/><circle cx="929.4" cy="537.8" r="4.35"/><circle cx="924.9" cy="543.7" r="4.35"/>
</g>
<rect x="707.90" y="109.00" width="346.90" height="462.90" fill="none" stroke="#000" stroke-width="1.6"/>
<path d="M748.90 571.90v6.9M821.40 571.90v6.9M893.90 571.90v6.9M966.40 571.90v6.9M1038.90 571.90v6.9M707.90 571.90h-6.9M707.90 514.00h-6.9M707.90 457.00h-6.9M707.90 398.90h-6.9M707.90 341.00h-6.9M707.90 283.00h-6.9M707.90 225.00h-6.9M707.90 167.00h-6.9M707.90 109.00h-6.9" stroke="#000" stroke-width="1.6" fill="none"/>
<text x="748.90" y="603.8" font-size="22.2" text-anchor="middle">37.5</text>
<text x="821.40" y="603.8" font-size="22.2" text-anchor="middle">40.0</text>
<text x="893.90" y="603.8" font-size="22.2" text-anchor="middle">42.5</text>
<text x="966.40" y="603.8" font-size="22.2" text-anchor="middle">45.0</text>
<text x="1038.90" y="603.8" font-size="22.2" text-anchor="middle">47.5</text>
<text x="693.50" y="580.40" font-size="22.2" text-anchor="end">-8</text>
<text x="693.50" y="522.50" font-size="22.2" text-anchor="end">-6</text>
<text x="693.50" y="465.50" font-size="22.2" text-anchor="end">-4</text>
<text x="693.50" y="407.40" font-size="22.2" text-anchor="end">-2</text>
<text x="693.50" y="349.50" font-size="22.2" text-anchor="end">0</text>
<text x="693.50" y="291.50" font-size="22.2" text-anchor="end">2</text>
<text x="693.50" y="233.50" font-size="22.2" text-anchor="end">4</text>
<text x="693.50" y="175.50" font-size="22.2" text-anchor="end">6</text>
<text x="693.50" y="117.50" font-size="22.2" text-anchor="end">8</text>
<text x="882.35" y="635.7" font-size="27" text-anchor="middle">x [<tspan font-style="italic">μ</tspan>m]</text>
<text transform="translate(657.60 342.30) rotate(-90)" font-size="27" text-anchor="middle">y [<tspan font-style="italic">μ</tspan>m]</text>
<rect x="505.00" y="109.00" width="16.90" height="462.90" fill="url(#seis)"/>
<rect x="505.00" y="109.00" width="16.90" height="462.90" fill="none" stroke="#000" stroke-width="1.6"/>
<path d="M521.90 109.00h6.9M521.90 166.86h6.9M521.90 224.72h6.9M521.90 282.59h6.9M521.90 340.45h6.9M521.90 398.31h6.9M521.90 456.17h6.9M521.90 514.04h6.9M521.90 571.90h6.9" stroke="#000" stroke-width="1.6" fill="none"/>
<text x="537.30" y="117.50" font-size="22.2">1.00</text>
<text x="537.30" y="175.36" font-size="22.2">0.75</text>
<text x="537.30" y="233.22" font-size="22.2">0.50</text>
<text x="537.30" y="291.09" font-size="22.2">0.25</text>
<text x="537.30" y="348.95" font-size="22.2">0.00</text>
<text x="537.30" y="406.81" font-size="22.2">-0.25</text>
<text x="537.30" y="464.67" font-size="22.2">-0.50</text>
<text x="537.30" y="522.54" font-size="22.2">-0.75</text>
<text x="537.30" y="580.40" font-size="22.2">-1.00</text>
<text x="521.30" y="102.7" font-size="22.2" text-anchor="end">1e13</text>
<text transform="translate(609.90 341.30) rotate(-90)" font-size="25.2" text-anchor="middle">Longitudinal Electric Field V/m</text>
<rect x="1062.90" y="109.00" width="16.90" height="462.90" fill="url(#seis)"/>
<rect x="1062.90" y="109.00" width="16.90" height="462.90" fill="none" stroke="#000" stroke-width="1.6"/>
<path d="M1079.80 155.29h6.9M1079.80 247.87h6.9M1079.80 340.45h6.9M1079.80 433.03h6.9M1079.80 525.61h6.9" stroke="#000" stroke-width="1.6" fill="none"/>
<text x="1095.20" y="163.79" font-size="22.2">4</text>
<text x="1095.20" y="256.37" font-size="22.2">2</text>
<text x="1095.20" y="348.95" font-size="22.2">0</text>
<text x="1095.20" y="441.53" font-size="22.2">-2</text>
<text x="1095.20" y="534.11" font-size="22.2">-4</text>
<text x="1079.20" y="102.7" font-size="22.2" text-anchor="end">1e13</text>
<text transform="translate(1138.80 341.30) rotate(-90)" font-size="25.2" text-anchor="middle">Transverse Electric Field V/m</text>
</svg></body></html>
